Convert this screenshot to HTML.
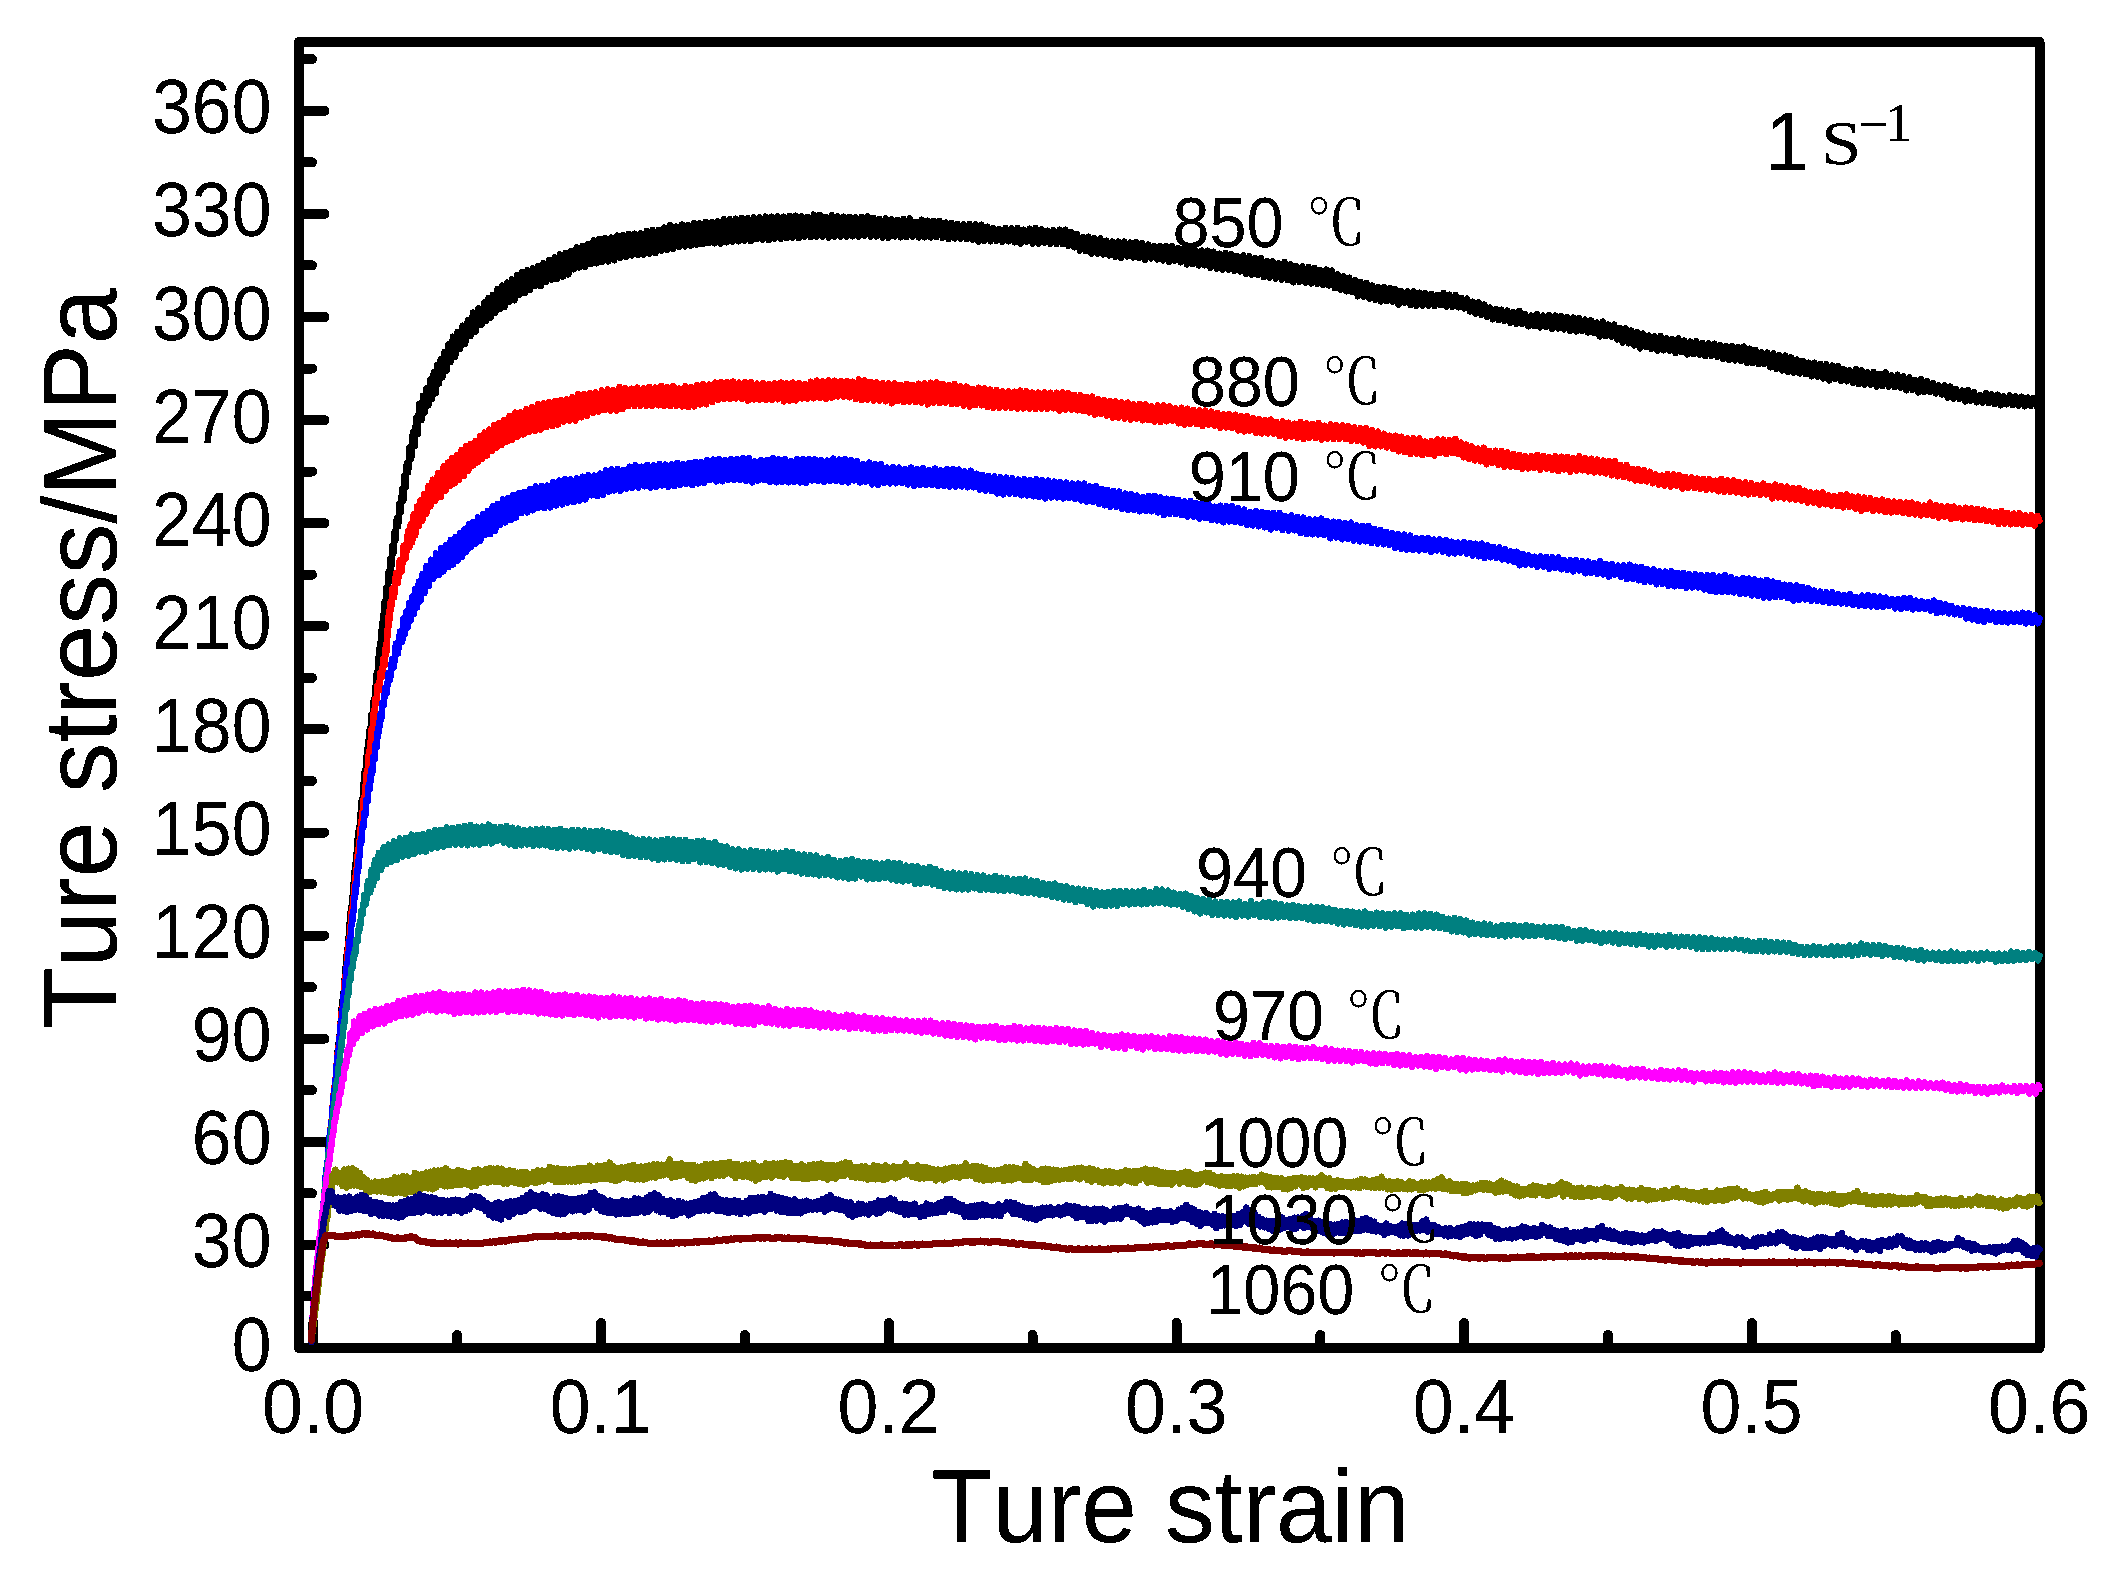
<!DOCTYPE html>
<html lang="en"><head><meta charset="utf-8"><title>Ture stress - Ture strain, 1 s-1</title>
<style>html,body{margin:0;padding:0;background:#fff}body{width:2110px;height:1570px;overflow:hidden}svg{display:block}</style></head>
<body>
<svg width="2110" height="1570" viewBox="0 0 2110 1570" shape-rendering="crispEdges">
<rect width="2110" height="1570" fill="#fff"/>
<g stroke="#000" stroke-width="10" stroke-linecap="round" fill="none">
<rect x="299.0" y="42.0" width="1740.5" height="1306.0" stroke-linejoin="round"/>
<path d="M299.0,1348.0h25.5M299.0,1296.4h13.0M299.0,1244.9h25.5M299.0,1193.3h13.0M299.0,1141.8h25.5M299.0,1090.2h13.0M299.0,1038.7h25.5M299.0,987.1h13.0M299.0,935.6h25.5M299.0,884.0h13.0M299.0,832.5h25.5M299.0,780.9h13.0M299.0,729.4h25.5M299.0,677.8h13.0M299.0,626.3h25.5M299.0,574.7h13.0M299.0,523.2h25.5M299.0,471.6h13.0M299.0,420.1h25.5M299.0,368.5h13.0M299.0,317.0h25.5M299.0,265.4h13.0M299.0,213.9h25.5M299.0,162.3h13.0M299.0,110.8h25.5M299.0,59.2h13.0M313.4,1348.0v-25.0M457.2,1348.0v-13.0M601.1,1348.0v-25.0M744.9,1348.0v-13.0M888.8,1348.0v-25.0M1032.6,1348.0v-13.0M1176.5,1348.0v-25.0M1320.3,1348.0v-13.0M1464.2,1348.0v-25.0M1608.0,1348.0v-13.0M1751.8,1348.0v-25.0M1895.7,1348.0v-13.0M2039.5,1348.0v-25.0"/>
</g>
<path d="M311.5,1342.1 312.1,1331.5 312.7,1327.6 313.3,1317.8 314.0,1313.4 314.6,1305.0 315.2,1298.5 315.8,1289.7 316.5,1284.7 317.1,1276.2 317.7,1271.6 318.3,1261.8 319.0,1256.6 319.6,1248.5 320.2,1242.4 320.9,1233.5 321.5,1230.0 322.1,1220.5 322.8,1215.4 323.4,1206.3 324.0,1202.5 324.7,1191.8 325.3,1189.3 326.0,1177.8 326.6,1175.0 327.2,1162.8 327.9,1161.9 328.5,1148.5 329.2,1148.1 329.8,1134.7 330.5,1132.1 331.1,1121.5 331.8,1119.8 332.4,1107.8 333.1,1105.6 333.7,1094.6 334.4,1091.6 335.1,1080.3 335.7,1078.5 336.4,1066.5 337.0,1063.7 337.7,1050.4 338.4,1050.2 339.0,1036.6 339.7,1036.6 340.4,1023.0 341.0,1022.5 341.7,1007.3 342.3,1009.3 343.0,994.5 343.6,994.9 344.3,979.4 344.9,981.1 345.6,967.1 346.2,965.9 346.9,951.3 347.5,952.5 348.2,938.0 348.8,939.5 349.5,924.0 350.1,924.6 350.8,910.0 351.4,912.6 352.1,897.4 352.8,898.4 353.4,883.9 354.1,885.0 354.8,868.9 355.4,870.9 356.1,854.1 356.8,855.5 357.5,840.0 358.2,841.7 358.9,827.7 359.6,828.6 360.3,813.5 361.1,815.3 361.8,799.5 362.6,801.5 363.3,784.0 364.1,788.5 364.8,770.6 365.6,773.4 366.4,756.3 367.2,760.5 368.0,741.8 368.8,746.6 369.7,729.1 370.7,732.4 371.6,714.3 372.6,719.6 373.5,701.4 374.4,705.3 375.2,687.0 376.0,691.7 376.8,672.2 377.6,676.8 378.3,657.6 379.1,663.7 379.9,643.7 380.7,650.2 381.4,630.4 382.2,635.0 383.0,615.2 383.8,622.5 384.7,601.4 385.5,609.8 386.4,587.7 387.3,595.9 388.3,573.1 389.2,581.5 390.2,559.2 391.2,568.7 392.2,546.1 393.3,553.5 394.4,532.3 395.6,540.1 396.8,518.8 398.1,526.4 399.5,503.9 400.8,512.6 402.1,489.4 403.3,500.5 404.5,475.8 405.6,487.4 406.8,463.1 408.1,472.5 409.5,447.5 411.2,459.1 412.9,432.4 414.6,446.5 416.1,418.4 417.6,434.2 419.3,403.9 421.5,420.1 423.0,395.8 424.8,412.7 426.6,388.5 428.5,405.3 430.4,379.5 432.1,398.7 433.8,372.3 435.5,393.3 437.2,365.3 438.9,383.7 440.7,359.3 442.5,377.4 444.5,352.2 446.5,370.8 448.6,344.2 450.7,362.1 453.0,336.7 455.2,356.7 457.6,331.8 460.1,349.1 462.6,325.7 465.2,343.7 467.8,320.3 470.4,336.1 473.1,312.6 475.8,331.8 478.6,308.3 481.4,325.0 484.2,302.7 486.4,320.8 488.6,298.1 490.8,317.8 493.0,294.8 495.3,313.0 497.6,289.0 499.9,309.2 502.3,285.5 504.7,307.0 507.1,282.7 509.5,301.9 512.0,279.3 514.5,300.3 517.0,275.2 519.6,294.8 522.2,271.8 524.8,293.0 527.5,270.2 530.1,290.0 532.8,268.2 535.5,285.9 538.2,266.0 540.9,286.1 543.6,263.1 546.4,281.8 549.1,260.0 551.9,279.8 554.7,257.5 557.4,278.7 560.2,254.4 563.0,276.6 565.7,253.1 568.5,274.4 571.3,250.9 574.0,269.3 576.8,247.3 579.6,267.4 582.5,245.9 585.3,266.8 588.1,243.9 590.9,264.2 593.8,240.3 596.7,263.3 599.5,238.8 602.4,261.7 605.3,238.2 608.3,261.6 611.2,237.7 614.2,260.3 617.2,235.6 620.1,258.2 623.1,235.2 626.1,257.2 629.0,233.8 632.0,255.4 634.9,233.7 637.9,254.9 640.9,233.5 643.8,254.7 646.8,230.9 649.7,253.6 652.7,230.1 655.6,253.0 658.6,230.0 661.5,250.6 664.5,227.6 667.4,249.9 670.4,225.0 673.3,249.0 676.3,226.6 679.2,246.9 682.2,224.5 685.1,246.3 688.1,224.8 691.0,245.6 694.0,223.2 697.0,244.7 700.0,223.5 702.9,244.1 705.9,221.9 708.9,243.2 711.9,222.2 714.8,243.3 717.8,221.2 720.8,243.6 723.8,219.1 726.8,242.4 729.8,219.1 732.8,241.7 735.8,218.7 738.8,241.3 741.8,217.9 744.8,240.6 747.8,218.1 750.8,241.2 753.8,217.2 756.8,239.2 759.8,217.2 762.8,239.7 765.8,216.6 768.8,240.0 771.8,216.7 774.8,238.8 777.8,216.2 780.8,238.9 783.8,216.7 786.8,238.0 789.8,215.9 792.8,237.5 795.8,215.7 798.8,238.2 801.8,216.5 804.8,236.7 807.8,216.8 810.8,237.2 813.8,214.6 816.8,236.8 819.8,214.8 822.8,236.8 825.8,216.8 828.8,237.4 831.8,215.1 834.8,236.6 837.8,216.3 840.8,236.8 843.8,216.7 846.8,236.6 849.8,216.8 852.8,236.3 855.8,217.2 858.8,236.5 861.8,216.9 864.8,235.7 867.8,216.4 870.8,236.6 873.7,218.0 876.7,236.4 879.7,219.0 882.7,237.7 885.7,218.5 888.7,237.9 891.7,219.4 894.7,236.5 897.7,220.1 900.7,237.4 903.7,219.1 906.7,237.1 909.7,218.2 912.7,236.6 915.7,221.8 918.7,237.5 921.7,219.7 924.7,237.3 927.7,220.6 930.7,237.5 933.7,220.9 936.7,237.1 939.7,221.0 942.7,237.9 945.7,222.6 948.7,239.1 951.7,223.1 954.7,238.5 957.6,223.8 960.6,238.8 963.6,224.2 966.6,239.0 969.6,223.8 972.6,239.8 975.6,224.5 978.6,241.8 981.6,224.7 984.5,241.0 987.5,226.7 990.5,241.4 993.5,228.2 996.5,240.8 999.5,229.1 1002.5,241.9 1005.5,228.0 1008.5,241.3 1011.5,228.4 1014.5,242.4 1017.5,228.0 1020.5,243.8 1023.6,229.7 1026.6,241.7 1029.6,228.6 1032.6,243.5 1035.6,227.8 1038.6,243.6 1041.6,229.5 1044.6,242.5 1047.6,230.8 1050.6,243.9 1053.6,230.1 1056.5,244.2 1059.5,229.7 1062.5,244.2 1065.4,229.7 1068.3,246.0 1071.3,231.9 1074.2,247.3 1077.1,233.8 1079.9,250.7 1082.8,237.0 1085.7,251.0 1088.6,236.7 1091.5,253.7 1094.4,238.2 1097.4,253.6 1100.3,238.3 1103.3,254.5 1106.2,240.7 1109.2,255.4 1112.2,241.5 1115.2,256.8 1118.1,241.4 1121.1,258.0 1124.1,241.4 1127.1,256.4 1130.1,242.4 1133.1,257.4 1136.1,241.8 1139.1,258.2 1142.1,243.2 1145.1,260.1 1148.1,244.6 1151.1,258.3 1154.1,246.3 1157.1,259.5 1160.1,245.9 1163.1,260.3 1166.0,246.0 1169.0,262.0 1172.0,246.0 1175.0,260.7 1177.9,248.1 1180.9,262.3 1183.9,247.9 1186.9,264.6 1189.8,248.9 1192.8,264.1 1195.8,250.5 1198.8,265.5 1201.7,250.6 1204.7,265.3 1207.7,250.7 1210.6,267.9 1213.6,251.7 1216.6,268.6 1219.6,253.7 1222.5,269.6 1225.5,252.9 1228.5,269.7 1231.4,254.0 1234.4,270.9 1237.3,256.0 1240.3,271.5 1243.3,255.3 1246.2,274.1 1249.2,256.2 1252.1,274.7 1255.1,257.9 1258.0,274.9 1261.0,258.0 1263.9,277.2 1266.9,261.0 1269.8,277.8 1272.8,261.5 1275.7,278.8 1278.7,263.3 1281.6,279.6 1284.6,262.0 1287.6,280.0 1290.5,264.3 1293.5,282.3 1296.5,266.1 1299.4,281.9 1302.4,266.3 1305.4,282.7 1308.4,266.8 1311.3,283.6 1314.3,267.8 1317.3,284.0 1320.2,270.0 1323.1,284.8 1326.1,269.5 1329.0,285.6 1331.9,270.5 1334.8,288.2 1337.7,274.4 1340.6,289.8 1343.5,276.3 1346.3,291.3 1349.2,277.7 1352.1,292.0 1355.0,279.8 1357.9,296.3 1360.7,282.1 1363.6,296.7 1366.5,283.0 1369.4,298.6 1372.3,285.5 1375.2,299.7 1378.1,287.0 1381.0,301.5 1383.9,286.9 1386.8,301.1 1389.8,288.1 1392.7,301.6 1395.6,289.1 1398.6,304.8 1401.6,291.1 1404.6,302.5 1407.6,291.4 1410.6,305.2 1413.6,291.3 1416.6,305.9 1419.6,292.6 1422.6,305.6 1425.6,293.2 1428.6,305.8 1431.6,294.0 1434.6,306.0 1437.6,295.0 1440.6,305.2 1443.6,293.0 1446.6,306.8 1449.5,294.7 1452.4,306.9 1455.4,294.9 1458.3,307.3 1461.2,297.8 1464.1,308.5 1467.0,298.7 1469.9,311.4 1472.8,301.8 1475.6,313.8 1478.5,302.3 1481.4,314.9 1484.3,304.6 1487.2,316.9 1490.0,307.7 1492.9,319.3 1495.8,308.9 1498.7,320.0 1501.6,309.8 1504.5,321.0 1507.5,310.6 1510.4,322.8 1513.3,311.9 1516.3,323.9 1519.3,310.8 1522.2,324.2 1525.2,314.0 1528.2,326.3 1531.2,315.4 1534.2,326.2 1537.1,313.9 1540.1,327.3 1543.1,315.7 1546.1,326.9 1549.1,315.0 1552.1,328.9 1555.1,315.4 1558.1,328.4 1561.1,316.1 1564.1,329.3 1567.1,316.9 1570.1,330.7 1573.1,317.6 1576.1,331.5 1579.1,317.9 1582.0,330.9 1585.0,319.6 1588.0,332.6 1590.9,320.3 1593.9,333.1 1596.8,322.6 1599.7,336.5 1602.7,321.6 1605.6,336.0 1608.5,324.6 1611.3,336.6 1614.2,324.6 1617.0,339.4 1619.9,328.2 1622.7,342.7 1625.6,328.2 1628.5,343.4 1631.3,330.6 1634.2,345.6 1637.1,332.1 1640.0,348.4 1642.9,333.6 1645.8,347.0 1648.8,335.6 1651.7,348.9 1654.6,336.4 1657.6,350.7 1660.6,335.9 1663.5,350.4 1666.5,338.4 1669.5,350.7 1672.4,339.1 1675.4,353.2 1678.4,338.4 1681.4,352.1 1684.4,340.5 1687.4,354.5 1690.3,341.5 1693.3,354.2 1696.3,341.1 1699.3,354.6 1702.3,342.8 1705.3,356.2 1708.3,343.4 1711.3,356.0 1714.3,343.7 1717.3,356.9 1720.2,345.1 1723.2,358.9 1726.2,346.0 1729.1,360.2 1732.1,346.0 1735.1,360.3 1738.0,346.9 1741.0,361.0 1743.9,346.7 1746.9,363.0 1749.8,348.7 1752.8,363.1 1755.7,350.0 1758.7,364.2 1761.6,352.3 1764.5,363.8 1767.5,352.6 1770.4,367.4 1773.3,353.3 1776.3,369.0 1779.2,355.0 1782.1,370.6 1785.1,355.4 1788.0,371.8 1790.9,357.3 1793.9,372.8 1796.8,359.5 1799.8,373.4 1802.7,360.9 1805.6,374.2 1808.6,362.6 1811.5,376.3 1814.5,362.6 1817.4,376.6 1820.3,363.8 1823.3,378.6 1826.2,364.2 1829.2,380.5 1832.2,365.6 1835.1,378.9 1838.1,365.9 1841.0,380.8 1844.0,369.4 1847.0,381.3 1849.9,370.4 1852.9,383.0 1855.9,369.1 1858.8,384.1 1861.8,370.4 1864.8,384.7 1867.8,372.2 1870.7,384.6 1873.7,372.0 1876.7,386.8 1879.7,374.1 1882.6,386.2 1885.6,372.3 1888.6,386.5 1891.6,375.3 1894.5,387.2 1897.5,374.7 1900.5,387.7 1903.4,376.4 1906.4,390.3 1909.4,377.4 1912.3,389.9 1915.3,380.2 1918.2,392.5 1921.2,379.0 1924.1,391.7 1927.1,380.8 1930.0,391.9 1933.0,382.9 1935.9,393.5 1938.8,385.5 1941.7,394.4 1944.7,385.5 1947.6,397.6 1950.5,386.6 1953.4,398.6 1956.3,389.2 1959.3,398.8 1962.2,390.6 1965.1,401.4 1968.1,390.0 1971.0,400.7 1973.9,392.0 1976.9,402.3 1979.8,395.1 1982.8,402.7 1985.8,393.0 1988.7,403.2 1991.7,394.4 1994.7,404.2 1997.7,394.7 2000.7,405.3 2003.7,396.5 2006.7,404.3 2009.7,395.2 2012.7,405.0 2015.7,396.5 2018.7,405.8 2021.7,396.7 2024.7,406.2 2027.7,397.6 2030.7,405.9 2033.7,397.9 2036.7,406.3 2039.5,402.5" fill="none" stroke="#000000" stroke-width="6.5" stroke-linejoin="round" stroke-linecap="round"/>
<path d="M311.5,1341.0 312.1,1332.8 312.7,1326.7 313.3,1319.1 313.9,1313.4 314.5,1304.5 315.1,1299.2 315.7,1291.2 316.4,1287.2 317.0,1277.1 317.6,1271.6 318.2,1262.1 318.8,1259.0 319.5,1247.1 320.1,1244.9 320.7,1233.6 321.3,1230.6 322.0,1220.5 322.6,1217.4 323.3,1204.9 323.9,1204.1 324.5,1192.3 325.2,1189.0 325.8,1178.3 326.5,1175.8 327.1,1163.2 327.8,1160.9 328.4,1150.3 329.1,1148.8 329.8,1135.4 330.4,1133.3 331.1,1121.8 331.7,1119.7 332.4,1106.9 333.1,1106.4 333.8,1092.5 334.4,1090.7 335.1,1080.0 335.8,1077.9 336.5,1064.7 337.1,1062.8 337.8,1051.3 338.5,1050.6 339.2,1036.8 339.9,1036.9 340.6,1023.3 341.2,1022.2 341.9,1008.8 342.6,1009.0 343.3,995.3 344.0,995.2 344.7,980.7 345.4,982.0 346.1,967.0 346.8,967.9 347.5,951.7 348.2,954.2 348.9,938.3 349.6,940.7 350.3,925.7 351.0,925.5 351.8,910.0 352.5,911.7 353.2,897.7 353.9,896.9 354.7,884.1 355.4,882.3 356.1,869.0 356.9,868.6 357.6,854.6 358.3,854.8 359.1,841.6 359.8,841.9 360.6,827.6 361.4,827.3 362.1,811.7 362.9,815.6 363.7,798.4 364.5,801.4 365.2,785.6 366.0,786.0 366.8,771.0 367.6,773.1 368.4,755.6 369.3,759.2 370.1,742.1 370.9,744.6 371.7,728.5 372.5,731.7 373.4,714.2 374.3,718.0 375.2,699.4 376.3,704.0 377.5,685.6 378.9,690.8 380.4,672.5 381.9,677.2 383.4,658.7 384.8,664.9 385.9,644.8 386.7,650.8 387.4,629.8 388.0,636.1 388.6,616.5 389.2,622.9 390.0,602.9 391.1,609.4 392.5,588.4 394.1,597.5 396.0,573.0 397.9,583.2 399.8,560.2 401.7,571.7 403.7,545.7 405.8,558.7 408.0,531.2 409.3,547.4 410.7,524.3 412.2,542.1 413.7,514.6 415.3,535.1 417.0,506.6 418.7,526.2 420.5,500.4 422.3,520.7 424.3,494.1 426.3,513.9 428.4,486.3 430.5,506.3 432.8,479.7 435.3,500.7 438.0,472.9 440.8,497.1 443.7,466.3 445.9,490.6 448.1,462.6 450.2,486.0 452.4,457.8 454.6,483.4 456.9,455.0 459.2,480.1 461.5,450.0 463.8,476.0 466.1,446.0 468.4,470.8 470.7,443.8 473.1,465.6 475.4,441.3 477.7,462.4 480.0,436.0 482.3,458.8 484.6,432.5 487.0,455.6 489.4,429.5 491.7,451.2 494.2,425.0 496.6,447.8 499.1,423.2 501.6,445.1 504.2,420.2 506.9,441.5 509.6,416.0 512.3,439.9 515.1,412.7 517.9,436.7 520.8,412.2 523.6,434.5 526.5,409.2 529.3,431.7 532.2,407.1 535.0,431.0 537.9,404.2 540.7,429.5 543.6,403.5 546.5,427.1 549.4,402.1 552.3,426.2 555.2,400.9 558.1,424.7 561.0,399.9 563.9,421.6 566.8,399.2 569.7,420.8 572.6,397.2 575.5,420.6 578.4,394.0 581.3,417.3 584.2,394.3 587.1,416.0 590.1,393.0 593.0,413.2 595.9,392.6 598.8,411.7 601.8,390.6 604.7,410.1 607.7,389.5 610.6,410.7 613.6,390.1 616.5,410.7 619.5,386.9 622.5,409.0 625.4,388.0 628.4,406.2 631.4,388.6 634.4,406.1 637.4,387.7 640.4,405.7 643.4,388.4 646.4,405.9 649.4,386.9 652.4,406.0 655.4,387.6 658.4,405.4 661.4,385.8 664.4,406.0 667.4,387.3 670.4,406.2 673.4,386.0 676.4,405.8 679.4,388.5 682.4,406.4 685.4,386.3 688.4,407.1 691.4,387.0 694.3,406.4 697.3,385.3 700.3,404.4 703.3,384.1 706.2,404.3 709.2,384.5 712.2,402.2 715.2,382.6 718.1,400.0 721.1,381.9 724.1,399.0 727.1,382.2 730.0,398.8 733.0,381.4 736.0,398.5 739.0,382.7 742.0,399.0 745.0,381.9 748.0,400.7 751.0,382.1 754.0,399.6 757.0,383.7 760.0,399.7 763.0,383.2 766.0,400.0 769.0,383.8 772.0,399.9 775.0,383.3 778.0,399.3 781.0,382.5 784.0,401.4 787.0,383.3 790.0,400.7 793.0,382.7 796.0,400.4 799.0,382.8 802.0,398.6 804.9,383.8 807.9,398.6 810.9,381.7 813.9,398.3 816.9,380.5 819.9,397.9 822.9,381.3 825.9,399.1 828.9,380.5 831.9,397.8 834.9,380.7 837.9,396.5 840.9,380.9 843.9,396.8 846.9,381.2 849.9,397.3 852.9,381.7 855.8,399.1 858.8,379.6 861.8,400.0 864.8,380.6 867.8,399.6 870.8,381.9 873.8,400.7 876.8,382.4 879.8,400.6 882.8,383.1 885.8,401.3 888.8,383.2 891.8,403.3 894.8,383.3 897.8,401.0 900.8,384.9 903.8,402.1 906.8,384.0 909.8,401.6 912.8,384.8 915.8,402.2 918.8,383.7 921.8,402.6 924.8,383.6 927.8,404.4 930.8,382.7 933.8,402.8 936.8,382.6 939.8,403.2 942.8,384.0 945.8,402.6 948.8,385.1 951.8,404.2 954.7,384.0 957.7,403.9 960.7,386.3 963.7,405.7 966.7,386.6 969.7,406.6 972.6,388.9 975.6,405.1 978.6,387.6 981.6,405.3 984.6,388.3 987.6,407.2 990.5,389.5 993.5,407.9 996.5,389.8 999.5,407.8 1002.5,391.4 1005.5,407.8 1008.5,391.3 1011.5,408.0 1014.5,391.7 1017.5,408.6 1020.5,390.5 1023.5,408.5 1026.5,391.2 1029.5,408.7 1032.5,392.5 1035.5,409.1 1038.5,392.5 1041.5,408.6 1044.5,392.3 1047.5,409.0 1050.5,392.7 1053.5,408.3 1056.5,392.7 1059.5,410.7 1062.5,392.3 1065.5,409.7 1068.4,393.1 1071.4,409.6 1074.4,394.9 1077.4,410.4 1080.3,395.0 1083.3,411.2 1086.3,396.8 1089.2,412.6 1092.2,396.5 1095.1,414.7 1098.1,399.0 1101.1,413.9 1104.0,399.9 1107.0,415.7 1110.0,400.8 1112.9,417.8 1115.9,401.4 1118.8,417.6 1121.8,402.4 1124.8,418.6 1127.8,402.6 1130.7,419.7 1133.7,404.3 1136.7,418.7 1139.7,403.8 1142.7,420.4 1145.7,404.2 1148.6,420.1 1151.6,406.3 1154.6,421.7 1157.6,405.5 1160.6,422.0 1163.6,405.2 1166.6,421.4 1169.6,406.2 1172.6,420.7 1175.6,408.4 1178.6,423.4 1181.6,407.7 1184.6,424.8 1187.5,408.7 1190.5,423.9 1193.5,410.0 1196.5,424.1 1199.5,410.5 1202.5,426.1 1205.4,410.5 1208.4,424.6 1211.4,411.5 1214.4,425.6 1217.3,412.9 1220.3,428.0 1223.3,414.4 1226.3,427.5 1229.2,413.9 1232.2,428.0 1235.2,414.7 1238.2,430.6 1241.1,416.2 1244.1,431.5 1247.1,416.2 1250.0,430.7 1253.0,417.9 1256.0,432.9 1258.9,418.8 1261.9,433.5 1264.9,420.2 1267.8,433.5 1270.8,419.5 1273.8,433.8 1276.7,422.1 1279.7,436.2 1282.7,421.2 1285.6,437.5 1288.6,422.7 1291.6,436.6 1294.6,423.6 1297.6,437.9 1300.6,422.0 1303.6,439.2 1306.6,423.3 1309.6,437.9 1312.6,423.9 1315.6,438.0 1318.6,422.9 1321.6,439.5 1324.6,425.7 1327.6,438.8 1330.6,424.5 1333.6,439.0 1336.5,425.1 1339.5,438.8 1342.5,425.4 1345.5,439.1 1348.4,426.2 1351.4,440.8 1354.4,427.4 1357.3,441.0 1360.3,428.2 1363.3,442.6 1366.2,428.0 1369.2,445.8 1372.1,429.9 1375.1,446.3 1378.0,431.7 1381.0,446.3 1383.9,433.8 1386.9,447.5 1389.8,435.8 1392.8,448.9 1395.7,435.7 1398.7,451.3 1401.6,436.7 1404.6,452.2 1407.5,438.5 1410.5,454.2 1413.5,438.2 1416.4,453.7 1419.4,438.3 1422.3,455.2 1425.3,441.6 1428.3,454.2 1431.3,441.2 1434.3,455.7 1437.3,439.3 1440.3,453.1 1443.2,439.4 1446.3,454.2 1449.3,440.2 1452.3,453.2 1455.3,438.8 1458.1,454.2 1460.9,442.5 1463.6,457.3 1466.3,444.6 1469.1,459.0 1471.9,446.4 1474.8,460.5 1477.7,448.6 1480.6,461.3 1483.6,447.6 1486.5,464.3 1489.5,450.9 1492.5,462.9 1495.5,450.7 1498.4,465.0 1501.4,450.9 1504.4,466.8 1507.4,452.4 1510.4,466.7 1513.3,453.8 1516.3,467.2 1519.3,454.8 1522.3,468.8 1525.3,456.2 1528.3,468.4 1531.3,456.1 1534.2,468.1 1537.2,454.8 1540.2,469.8 1543.3,455.9 1546.3,468.7 1549.3,457.2 1552.3,470.0 1555.3,456.1 1558.3,471.2 1561.3,456.7 1564.3,469.5 1567.3,456.8 1570.3,471.8 1573.3,458.0 1576.3,470.7 1579.3,456.2 1582.3,470.3 1585.2,457.9 1588.2,471.4 1591.2,458.7 1594.2,472.6 1597.1,459.4 1600.1,472.6 1603.1,460.7 1606.0,473.5 1609.0,461.0 1611.9,475.3 1614.8,461.0 1617.8,476.3 1620.7,465.0 1623.6,477.2 1626.5,464.9 1629.5,478.4 1632.4,468.9 1635.3,480.4 1638.2,469.0 1641.1,480.9 1644.1,469.8 1647.0,481.5 1649.9,471.8 1652.9,483.3 1655.8,474.5 1658.8,484.6 1661.7,475.6 1664.7,485.9 1667.6,473.9 1670.6,486.6 1673.6,474.5 1676.6,485.6 1679.5,475.2 1682.5,488.7 1685.5,476.8 1688.5,488.0 1691.5,477.3 1694.5,488.2 1697.5,478.6 1700.4,488.9 1703.4,478.8 1706.4,490.0 1709.4,479.1 1712.4,489.5 1715.4,480.7 1718.4,491.3 1721.4,478.8 1724.4,491.9 1727.4,480.3 1730.4,491.9 1733.4,480.3 1736.4,492.4 1739.4,482.1 1742.4,493.5 1745.3,482.4 1748.3,494.5 1751.3,483.2 1754.3,493.7 1757.3,485.1 1760.2,494.8 1763.2,483.6 1766.2,494.5 1769.2,486.3 1772.1,498.5 1775.1,484.5 1778.1,497.4 1781.0,486.2 1784.0,498.3 1787.0,486.7 1790.0,499.3 1792.9,487.9 1795.9,499.8 1798.9,487.9 1801.8,500.8 1804.8,490.7 1807.8,502.7 1810.7,492.3 1813.7,502.6 1816.7,492.7 1819.6,504.8 1822.6,492.5 1825.6,504.4 1828.5,495.3 1831.5,505.7 1834.5,496.1 1837.5,506.2 1840.4,494.9 1843.4,507.4 1846.4,494.3 1849.4,506.8 1852.3,496.6 1855.3,508.7 1858.3,496.5 1861.3,511.0 1864.3,497.6 1867.2,509.2 1870.2,498.3 1873.2,511.2 1876.2,500.2 1879.2,510.4 1882.2,499.5 1885.2,512.2 1888.1,501.0 1891.1,512.5 1894.1,501.7 1897.1,512.0 1900.1,501.9 1903.1,512.9 1906.1,502.5 1909.0,514.0 1912.0,502.5 1915.0,514.4 1918.0,504.3 1921.0,515.5 1924.0,505.6 1927.0,514.9 1930.0,502.7 1932.9,515.8 1935.9,505.1 1938.9,517.6 1941.9,506.3 1944.9,516.7 1947.9,506.3 1950.9,519.2 1953.8,506.5 1956.8,518.1 1959.8,508.2 1962.8,519.3 1965.8,507.8 1968.8,518.9 1971.8,508.5 1974.7,520.2 1977.7,509.0 1980.7,520.1 1983.7,509.8 1986.7,521.2 1989.7,511.4 1992.7,521.8 1995.6,511.9 1998.6,524.2 2001.6,511.1 2004.6,523.8 2007.6,512.9 2010.6,524.4 2013.6,513.6 2016.5,524.1 2019.5,513.1 2022.5,524.5 2025.5,515.4 2028.5,524.1 2031.5,515.1 2034.5,525.6 2037.4,515.8 2039.5,521.0" fill="none" stroke="#ff0000" stroke-width="6.5" stroke-linejoin="round" stroke-linecap="round"/>
<path d="M311.5,1341.0 312.1,1331.9 312.7,1328.4 313.2,1317.3 313.8,1312.9 314.4,1305.0 315.0,1300.6 315.6,1290.1 316.2,1286.0 316.8,1275.0 317.4,1272.3 318.1,1261.3 318.7,1258.4 319.3,1248.1 319.9,1243.4 320.6,1233.6 321.2,1230.7 321.8,1218.8 322.5,1216.6 323.1,1205.8 323.8,1201.2 324.4,1190.5 325.1,1187.9 325.7,1176.0 326.4,1173.8 327.0,1162.3 327.7,1162.1 328.4,1150.8 329.0,1147.0 329.7,1135.5 330.4,1134.3 331.1,1122.7 331.7,1121.2 332.4,1107.3 333.1,1106.7 333.8,1093.9 334.5,1093.7 335.2,1080.0 335.9,1079.0 336.6,1065.2 337.3,1063.6 338.0,1050.7 338.7,1049.5 339.4,1037.2 340.1,1035.1 340.8,1023.5 341.5,1022.5 342.2,1009.7 343.0,1008.6 343.7,994.3 344.5,995.3 345.2,981.1 346.0,979.8 346.7,966.7 347.5,965.7 348.3,952.2 349.0,951.5 349.8,938.7 350.6,938.7 351.3,925.5 352.1,925.0 352.9,912.3 353.6,912.1 354.4,897.2 355.1,898.4 355.8,883.3 356.6,885.4 357.3,869.5 358.1,871.7 358.9,856.5 359.7,856.8 360.5,841.4 361.4,841.8 362.3,827.5 363.3,827.9 364.3,812.7 365.4,815.2 366.4,799.5 367.6,801.8 368.7,785.0 369.9,788.6 371.0,770.5 372.2,773.6 373.4,757.0 374.6,759.8 375.7,743.3 376.8,747.1 377.9,728.7 379.0,732.0 380.1,714.7 381.2,719.6 382.4,702.5 383.7,705.1 385.2,687.8 386.7,693.5 388.4,673.3 390.1,680.1 392.0,659.2 393.9,667.6 395.9,643.6 397.9,653.7 400.0,631.6 402.2,642.0 403.5,618.3 404.8,634.2 406.2,611.9 407.6,627.5 409.1,603.1 410.6,620.5 412.2,596.6 413.8,613.7 415.4,589.2 417.1,607.3 418.9,581.6 420.7,600.5 422.7,573.9 424.6,593.0 426.7,565.8 428.9,586.0 431.1,559.7 433.5,578.6 436.2,553.4 439.0,575.2 441.2,548.2 443.5,571.5 445.9,545.2 448.3,567.2 450.8,540.0 453.2,564.4 455.5,537.1 457.8,560.5 460.0,533.3 462.2,556.7 464.3,529.6 466.5,551.6 468.8,524.4 471.0,547.3 473.4,521.9 475.7,543.7 478.1,517.3 480.5,540.6 482.9,514.6 485.3,535.0 487.7,511.0 490.2,534.2 492.7,506.5 495.2,530.9 497.7,503.8 500.3,524.9 502.9,499.5 505.5,522.5 508.1,497.8 510.8,520.0 513.4,494.9 516.1,517.7 518.9,493.2 521.6,513.2 524.4,491.8 527.2,512.4 530.0,489.0 532.8,510.3 535.7,486.3 538.5,507.8 541.5,486.0 544.4,508.1 547.4,485.6 550.3,507.6 553.3,482.1 556.3,505.4 559.2,480.6 562.2,504.4 565.1,478.8 568.0,502.5 570.9,479.6 573.9,502.1 576.8,478.4 579.7,500.7 582.6,476.7 585.5,499.4 588.4,475.3 591.3,495.3 594.3,475.4 597.2,496.2 600.1,473.7 603.0,494.8 606.0,470.5 608.9,491.8 611.8,469.3 614.8,490.4 617.7,469.1 620.7,490.9 623.6,470.0 626.6,488.7 629.6,466.7 632.6,487.9 635.5,465.2 638.5,487.6 641.5,466.7 644.5,486.3 647.5,464.8 650.5,487.6 653.5,465.3 656.5,486.8 659.5,463.9 662.5,485.4 665.5,464.5 668.5,486.9 671.5,464.4 674.5,486.1 677.5,462.8 680.4,484.7 683.4,464.2 686.4,484.0 689.4,462.9 692.4,485.1 695.4,461.8 698.4,483.4 701.3,462.1 704.3,482.8 707.3,460.0 710.3,479.8 713.3,459.5 716.2,481.4 719.2,459.2 722.2,481.3 725.2,460.0 728.2,479.7 731.2,459.3 734.2,480.1 737.2,459.3 740.2,479.7 743.2,458.3 746.2,480.8 749.2,458.3 752.2,482.4 755.2,461.4 758.2,480.6 761.2,460.3 764.2,480.2 767.2,459.8 770.2,481.9 773.2,458.0 776.2,482.3 779.2,459.4 782.2,482.1 785.2,459.1 788.2,482.3 791.2,461.2 794.2,481.7 797.2,458.9 800.2,482.4 803.2,459.2 806.2,482.9 809.2,459.1 812.2,480.4 815.2,459.4 818.2,480.8 821.2,459.9 824.2,481.7 827.2,460.7 830.2,481.0 833.2,458.6 836.2,481.0 839.2,459.6 842.2,481.7 845.2,459.3 848.2,482.5 851.1,460.3 854.1,480.4 857.1,461.1 860.1,482.5 863.1,463.9 866.1,481.7 869.1,462.7 872.1,484.3 875.0,463.8 878.0,484.8 881.0,463.9 884.0,483.2 887.0,467.7 890.0,483.4 893.0,467.0 896.0,483.3 899.0,467.7 902.0,483.1 905.0,469.0 908.0,484.5 911.0,467.5 914.0,485.8 917.0,469.1 920.0,484.8 923.0,468.1 926.0,484.8 929.0,469.9 932.0,485.0 935.0,468.5 938.0,486.2 941.0,470.3 944.0,485.8 947.0,468.9 949.9,486.6 952.9,469.0 955.9,486.7 958.9,469.6 961.8,486.4 964.8,471.4 967.8,487.3 970.7,470.7 973.7,487.3 976.7,473.8 979.6,489.5 982.6,474.8 985.5,490.7 988.5,475.8 991.5,491.2 994.4,476.4 997.4,493.5 1000.3,477.2 1003.3,494.4 1006.3,477.5 1009.3,493.7 1012.3,478.2 1015.2,493.7 1018.2,479.7 1021.2,495.3 1024.2,479.2 1027.2,495.6 1030.2,480.0 1033.2,496.3 1036.2,479.2 1039.2,496.9 1042.2,479.9 1045.2,498.3 1048.2,480.6 1051.2,497.5 1054.2,481.6 1057.2,497.4 1060.1,482.2 1063.1,498.5 1066.1,482.4 1069.1,498.1 1072.1,483.6 1075.1,498.9 1078.1,483.7 1081.1,500.6 1084.1,483.5 1087.0,501.6 1090.0,486.4 1093.0,502.1 1095.9,486.1 1098.8,503.9 1101.7,488.8 1104.6,505.3 1107.5,489.9 1110.4,506.7 1113.3,490.9 1116.3,506.8 1119.2,491.5 1122.1,509.2 1125.1,493.5 1128.0,510.2 1131.0,493.8 1134.0,510.1 1136.9,495.5 1139.9,511.3 1142.9,496.8 1145.9,511.0 1148.8,495.8 1151.8,511.3 1154.8,495.9 1157.8,512.5 1160.8,497.3 1163.8,515.2 1166.8,498.7 1169.8,513.9 1172.7,498.8 1175.7,514.2 1178.7,500.0 1181.7,515.1 1184.6,501.5 1187.6,516.7 1190.6,500.8 1193.6,516.6 1196.5,503.2 1199.5,518.7 1202.5,502.2 1205.5,518.1 1208.4,503.5 1211.4,520.1 1214.4,506.7 1217.3,520.5 1220.3,505.7 1223.3,522.3 1226.3,506.2 1229.2,521.5 1232.2,506.0 1235.2,522.1 1238.1,508.3 1241.1,523.1 1244.1,509.4 1247.0,524.9 1250.0,511.8 1253.0,525.5 1255.9,511.2 1258.9,526.3 1261.9,512.2 1264.8,527.3 1267.8,512.9 1270.8,529.5 1273.7,512.9 1276.7,527.8 1279.7,512.9 1282.6,530.2 1285.6,516.1 1288.6,530.5 1291.5,515.5 1294.5,530.4 1297.5,516.8 1300.4,533.2 1303.4,517.6 1306.4,534.1 1309.4,519.4 1312.3,534.3 1315.3,519.5 1318.3,534.4 1321.3,518.5 1324.3,535.1 1327.2,521.1 1330.2,538.3 1333.2,521.7 1336.1,537.6 1339.1,521.9 1342.1,539.3 1345.0,522.8 1348.0,539.2 1351.0,522.7 1353.9,540.7 1356.9,525.4 1359.8,541.4 1362.8,525.9 1365.7,541.4 1368.7,526.1 1371.6,543.0 1374.6,528.8 1377.6,543.6 1380.5,529.8 1383.5,544.4 1386.4,531.9 1389.4,544.9 1392.3,532.9 1395.3,548.1 1398.2,534.0 1401.2,548.8 1404.1,534.5 1407.1,549.7 1410.1,535.5 1413.0,549.9 1416.0,537.8 1419.0,550.4 1421.9,538.0 1424.9,550.0 1427.9,537.9 1430.9,552.2 1433.9,539.5 1436.9,550.5 1439.9,539.4 1442.9,551.6 1445.9,540.0 1448.8,553.5 1451.8,541.7 1454.8,553.5 1457.8,542.6 1460.8,552.8 1463.8,542.1 1466.8,553.7 1469.8,543.1 1472.7,555.6 1475.7,543.8 1478.7,556.3 1481.7,543.6 1484.6,558.1 1487.6,545.3 1490.5,557.4 1493.5,547.0 1496.4,558.0 1499.3,547.4 1502.2,559.5 1505.1,549.0 1508.1,560.5 1511.0,551.3 1513.9,562.0 1516.8,551.7 1519.7,565.3 1522.7,554.0 1525.6,564.7 1528.6,555.3 1531.5,564.6 1534.5,556.8 1537.4,566.8 1540.4,556.3 1543.4,566.6 1546.4,556.9 1549.3,569.0 1552.3,557.0 1555.3,567.7 1558.3,557.4 1561.3,569.3 1564.3,560.1 1567.3,570.0 1570.3,560.2 1573.3,571.5 1576.2,559.9 1579.2,570.6 1582.2,561.2 1585.2,573.3 1588.2,561.5 1591.2,573.1 1594.2,563.1 1597.2,573.7 1600.1,561.1 1603.1,574.5 1606.1,564.3 1609.0,576.7 1612.0,564.0 1615.0,574.6 1618.0,565.6 1620.9,577.0 1623.9,565.4 1626.8,579.2 1629.8,564.7 1632.8,579.0 1635.7,566.7 1638.7,580.3 1641.7,567.1 1644.6,582.1 1647.6,569.1 1650.6,581.5 1653.5,569.4 1656.5,584.4 1659.5,571.3 1662.5,584.0 1665.4,571.6 1668.4,585.8 1671.4,571.1 1674.4,586.4 1677.3,572.8 1680.3,586.2 1683.3,572.8 1686.3,587.9 1689.3,574.1 1692.2,587.6 1695.2,574.3 1698.2,587.5 1701.2,575.1 1704.2,589.4 1707.2,575.3 1710.2,591.2 1713.1,575.3 1716.1,592.2 1719.1,576.7 1722.1,591.8 1725.1,575.3 1728.1,592.1 1731.0,576.9 1734.0,592.5 1737.0,579.3 1740.0,594.0 1743.0,577.8 1746.0,593.7 1748.9,578.6 1751.9,595.6 1754.9,579.4 1757.9,596.0 1760.8,580.7 1763.8,597.8 1766.8,579.8 1769.8,597.7 1772.7,581.5 1775.7,597.1 1778.7,583.1 1781.7,596.9 1784.6,584.6 1787.6,598.2 1790.6,585.1 1793.6,600.7 1796.5,585.4 1799.5,600.0 1802.5,586.9 1805.4,599.4 1808.4,588.3 1811.4,600.8 1814.4,590.6 1817.3,600.8 1820.3,591.6 1823.3,602.1 1826.3,592.3 1829.2,602.7 1832.2,592.3 1835.2,602.9 1838.2,594.1 1841.2,603.5 1844.1,594.8 1847.1,603.6 1850.1,594.0 1853.1,605.1 1856.1,597.0 1859.1,605.6 1862.1,595.7 1865.0,605.9 1868.0,595.2 1871.0,606.4 1874.0,595.8 1877.0,606.9 1880.0,596.7 1883.0,607.2 1886.0,597.5 1889.0,606.1 1892.0,599.2 1895.0,608.4 1898.0,599.1 1901.0,608.9 1904.0,597.8 1907.0,607.9 1910.0,598.0 1913.0,609.5 1915.9,600.6 1918.9,608.8 1921.9,601.3 1924.9,609.1 1927.9,602.2 1930.8,610.8 1933.8,600.6 1936.8,613.1 1939.7,602.9 1942.7,612.2 1945.6,604.4 1948.6,613.4 1951.6,605.9 1954.5,614.3 1957.5,608.4 1960.4,614.9 1963.4,608.2 1966.3,618.4 1969.3,609.4 1972.2,619.3 1975.2,609.9 1978.1,620.8 1981.1,611.2 1984.1,621.7 1987.0,611.2 1990.0,620.1 1993.0,612.6 1995.9,621.8 1998.9,613.0 2001.9,622.1 2004.9,613.4 2007.9,622.4 2010.9,613.5 2013.9,622.1 2016.8,613.8 2019.8,622.0 2022.8,612.8 2025.9,623.5 2028.9,613.3 2031.9,622.9 2034.9,614.9 2037.9,623.2 2039.5,618.6" fill="none" stroke="#0000ff" stroke-width="6.5" stroke-linejoin="round" stroke-linecap="round"/>
<path d="M311.5,1340.0 312.0,1331.2 312.5,1326.0 313.1,1318.5 313.6,1312.4 314.2,1304.3 314.7,1298.4 315.3,1290.9 315.9,1284.7 316.5,1275.9 317.1,1270.5 317.8,1262.5 318.4,1257.8 319.0,1248.2 319.7,1243.5 320.4,1235.0 321.0,1229.1 321.7,1220.1 322.4,1215.7 323.1,1205.1 323.8,1201.9 324.5,1191.0 325.3,1186.6 326.0,1178.2 326.7,1172.8 327.5,1164.2 328.2,1158.9 329.0,1150.1 329.8,1146.9 330.5,1137.2 331.3,1132.9 332.1,1122.3 332.9,1117.1 333.7,1108.4 334.5,1104.5 335.3,1095.5 336.1,1090.1 336.9,1080.0 337.8,1078.3 338.6,1066.9 339.4,1064.1 340.2,1052.3 341.1,1050.8 341.9,1038.2 342.7,1037.8 343.6,1024.8 344.5,1022.9 345.4,1009.9 346.3,1009.9 347.3,996.3 348.3,995.1 349.3,980.3 350.4,980.1 351.5,967.8 352.7,967.5 353.9,953.9 355.2,954.1 356.4,939.9 357.7,941.6 358.9,925.9 360.1,928.8 361.3,910.8 362.8,914.4 364.3,895.0 366.0,904.2 367.9,881.1 370.2,892.6 371.6,869.8 373.2,885.3 374.9,860.3 376.8,878.4 378.9,852.8 381.2,869.9 383.7,847.4 386.4,864.2 388.7,844.6 391.3,861.7 394.1,841.4 396.9,860.2 399.9,838.6 402.9,856.5 405.9,837.8 408.7,855.7 411.6,834.6 414.5,853.8 417.3,834.9 420.2,851.6 423.1,833.8 426.1,851.6 429.0,831.8 431.9,848.7 434.9,830.2 437.8,847.7 440.8,829.8 443.7,846.6 446.7,827.4 449.7,845.0 452.6,827.9 455.6,844.8 458.6,826.9 461.6,844.5 464.6,826.0 467.6,845.3 470.6,824.8 473.6,844.3 476.6,826.6 479.6,844.7 482.6,826.6 485.6,843.1 488.6,824.6 491.6,843.4 494.6,826.8 497.6,840.9 500.6,826.8 503.6,842.6 506.5,826.0 509.5,844.4 512.5,827.7 515.4,846.1 518.4,828.5 521.4,845.4 524.4,830.2 527.4,844.5 530.4,829.5 533.4,845.9 536.4,829.0 539.4,845.3 542.4,828.7 545.4,845.3 548.4,829.2 551.4,847.1 554.4,829.9 557.4,847.8 560.4,828.8 563.4,847.4 566.4,831.1 569.4,848.6 572.4,829.8 575.4,847.5 578.4,830.1 581.4,847.7 584.4,830.4 587.4,848.8 590.4,831.2 593.4,850.6 596.4,830.8 599.3,849.1 602.3,830.7 605.3,851.0 608.3,832.2 611.2,851.8 614.2,832.9 617.1,851.9 620.0,833.2 623.0,855.2 625.9,834.8 628.8,856.0 631.7,837.7 634.7,855.6 637.6,839.7 640.6,857.2 643.5,839.2 646.5,856.9 649.5,839.5 652.5,858.5 655.5,840.5 658.5,860.0 661.5,839.9 664.5,859.3 667.5,839.0 670.5,858.9 673.5,839.3 676.5,859.6 679.5,840.0 682.5,861.1 685.6,839.9 688.6,861.0 691.5,842.0 694.5,859.0 697.5,840.8 700.5,862.3 703.5,840.7 706.4,861.8 709.4,843.3 712.3,862.8 715.2,841.9 718.2,864.5 721.1,845.8 724.0,864.7 727.0,846.6 729.9,866.9 732.9,849.4 735.8,868.3 738.8,849.6 741.7,869.4 744.7,851.2 747.6,868.8 750.6,850.5 753.6,868.9 756.6,851.0 759.6,869.6 762.6,852.0 765.6,869.4 768.6,851.7 771.6,869.4 774.6,852.7 777.6,871.4 780.6,852.7 783.6,869.1 786.6,851.1 789.6,871.0 792.6,851.8 795.6,871.6 798.6,854.4 801.6,873.4 804.5,854.5 807.5,874.1 810.5,855.2 813.4,874.3 816.4,855.6 819.4,875.4 822.3,858.4 825.3,875.0 828.3,857.1 831.2,875.4 834.2,860.3 837.2,877.3 840.2,861.2 843.2,877.5 846.1,859.9 849.1,878.6 852.1,858.8 855.1,878.5 858.1,860.8 861.1,876.5 864.1,861.9 867.1,879.3 870.1,862.1 873.1,878.8 876.1,862.8 879.1,879.2 882.1,863.6 885.1,878.0 888.1,862.2 891.1,879.6 894.1,863.1 897.1,880.7 900.0,863.4 903.0,881.4 906.0,865.6 908.9,880.8 911.9,866.1 914.9,884.0 917.8,866.5 920.8,883.6 923.8,868.2 926.7,883.1 929.7,866.9 932.6,884.4 935.6,868.8 938.6,886.2 941.5,871.5 944.5,888.0 947.5,873.3 950.4,888.5 953.4,872.6 956.4,889.3 959.4,873.6 962.4,889.5 965.3,873.4 968.3,889.4 971.3,874.1 974.3,888.3 977.3,875.1 980.3,890.2 983.3,875.5 986.3,889.4 989.3,877.6 992.3,890.2 995.3,875.8 998.3,890.6 1001.3,877.7 1004.3,891.1 1007.3,878.2 1010.3,890.5 1013.3,879.4 1016.3,891.3 1019.3,878.8 1022.2,893.0 1025.2,878.6 1028.2,893.0 1031.2,880.4 1034.2,893.5 1037.1,881.0 1040.1,894.7 1043.1,883.0 1046.0,895.2 1049.0,884.0 1051.9,897.0 1054.9,883.6 1057.8,897.6 1060.8,885.9 1063.7,899.5 1066.7,886.5 1069.7,899.9 1072.6,888.4 1075.6,902.0 1078.5,888.6 1081.5,901.2 1084.4,889.6 1087.4,903.9 1090.3,890.3 1093.3,906.6 1096.3,891.0 1099.3,905.3 1102.2,892.4 1105.2,906.2 1108.2,892.0 1111.2,905.4 1114.2,891.1 1117.2,905.7 1120.2,891.1 1123.2,903.8 1126.2,891.2 1129.2,904.4 1132.2,891.6 1135.2,904.0 1138.2,891.5 1141.2,904.3 1144.2,889.9 1147.2,903.9 1150.2,891.9 1153.2,903.4 1156.2,889.2 1159.1,902.9 1162.1,889.7 1165.1,903.4 1168.0,890.6 1171.0,904.6 1173.9,892.7 1176.9,904.4 1179.8,893.9 1182.8,906.6 1185.7,893.7 1188.6,908.9 1191.6,896.2 1194.5,911.3 1197.5,898.2 1200.4,913.5 1203.4,899.0 1206.3,912.3 1209.3,900.3 1212.3,914.8 1215.2,901.6 1218.2,914.7 1221.2,902.2 1224.1,915.5 1227.1,902.3 1230.1,915.5 1233.1,902.4 1236.1,917.0 1239.1,901.6 1242.1,915.6 1245.1,904.2 1248.1,916.4 1251.1,901.1 1254.1,914.9 1257.1,904.4 1260.1,916.9 1263.1,902.4 1266.1,917.1 1269.1,902.1 1272.1,917.9 1275.1,902.9 1278.1,917.4 1281.1,904.0 1284.1,917.2 1287.1,905.6 1290.1,917.8 1293.1,905.2 1296.1,917.7 1299.0,906.3 1302.0,918.0 1305.0,906.8 1308.0,919.6 1311.0,906.7 1314.0,921.1 1316.9,907.2 1319.9,920.8 1322.9,907.4 1325.9,921.0 1328.9,908.6 1331.8,921.8 1334.8,909.9 1337.8,923.5 1340.8,911.0 1343.8,924.4 1346.8,911.1 1349.8,923.9 1352.8,911.8 1355.7,925.0 1358.7,912.6 1361.7,926.4 1364.7,911.6 1367.7,926.4 1370.7,913.9 1373.7,925.9 1376.7,912.8 1379.7,926.1 1382.7,913.4 1385.7,927.7 1388.7,913.8 1391.7,926.6 1394.7,913.3 1397.7,926.1 1400.7,913.4 1403.7,928.2 1406.7,915.0 1409.7,927.1 1412.7,914.8 1415.7,927.6 1418.7,913.6 1421.7,927.8 1424.7,913.2 1427.7,926.8 1430.7,914.1 1433.6,927.7 1436.6,914.7 1439.6,928.2 1442.6,916.9 1445.5,929.2 1448.5,918.8 1451.5,931.3 1454.5,917.9 1457.4,931.8 1460.4,919.2 1463.4,932.3 1466.3,920.6 1469.3,934.6 1472.3,922.7 1475.2,934.2 1478.2,924.0 1481.2,934.4 1484.2,923.5 1487.1,934.8 1490.1,924.5 1493.1,935.0 1496.1,926.6 1499.1,935.6 1502.1,924.8 1505.1,936.5 1508.1,925.3 1511.1,935.3 1514.1,925.3 1517.1,934.7 1520.1,926.1 1523.1,936.3 1526.1,924.9 1529.1,936.2 1532.1,926.0 1535.1,935.8 1538.1,927.1 1541.1,935.0 1544.1,926.7 1547.1,936.9 1550.1,927.3 1553.1,937.1 1556.1,927.2 1559.1,937.7 1562.0,927.1 1565.0,939.0 1568.0,928.8 1571.0,938.0 1574.0,930.9 1577.0,940.7 1579.9,929.9 1582.9,940.6 1585.9,930.4 1588.9,939.8 1591.9,931.9 1594.9,941.0 1597.8,933.6 1600.8,943.0 1603.8,933.4 1606.8,941.3 1609.8,933.3 1612.8,942.4 1615.8,933.2 1618.8,944.1 1621.8,934.4 1624.8,943.0 1627.8,934.8 1630.7,943.9 1633.7,935.0 1636.7,944.7 1639.7,934.1 1642.7,944.2 1645.7,935.6 1648.7,946.4 1651.7,936.0 1654.7,946.8 1657.7,935.8 1660.7,944.6 1663.7,936.6 1666.7,946.9 1669.7,935.0 1672.7,945.5 1675.7,937.1 1678.7,946.6 1681.7,936.8 1684.7,946.0 1687.7,937.0 1690.7,946.8 1693.7,937.4 1696.7,948.6 1699.6,937.3 1702.6,949.1 1705.6,938.1 1708.6,949.1 1711.6,938.3 1714.6,948.7 1717.6,939.8 1720.6,948.7 1723.6,939.7 1726.6,948.9 1729.6,940.4 1732.6,948.6 1735.6,939.6 1738.6,948.6 1741.6,940.0 1744.6,950.3 1747.6,940.7 1750.6,951.2 1753.6,942.3 1756.6,951.2 1759.6,940.9 1762.6,951.4 1765.6,941.2 1768.6,951.7 1771.6,942.2 1774.6,951.2 1777.5,942.0 1780.5,952.0 1783.5,942.8 1786.5,951.6 1789.5,943.2 1792.5,953.1 1795.5,945.1 1798.5,953.8 1801.5,946.9 1804.4,954.8 1807.4,947.2 1810.4,954.9 1813.4,946.4 1816.4,954.5 1819.4,946.9 1822.4,954.5 1825.4,948.3 1828.4,955.1 1831.4,946.4 1834.4,955.4 1837.4,946.4 1840.4,955.2 1843.3,947.0 1846.3,954.4 1849.3,945.4 1852.3,955.7 1855.3,946.5 1858.3,954.9 1861.3,943.6 1864.3,953.9 1867.3,944.9 1870.3,954.6 1873.3,945.3 1876.3,954.2 1879.3,945.2 1882.3,956.0 1885.3,946.0 1888.2,954.5 1891.2,948.4 1894.2,956.8 1897.2,947.8 1900.2,957.0 1903.2,948.5 1906.1,958.4 1909.1,950.2 1912.1,958.0 1915.1,951.0 1918.1,959.9 1921.1,950.1 1924.0,960.3 1927.0,952.5 1930.0,959.0 1933.0,952.8 1936.0,960.1 1939.0,952.6 1942.0,960.9 1945.0,953.4 1948.0,960.8 1951.0,951.7 1954.0,961.0 1957.0,952.6 1960.0,960.6 1963.0,953.9 1966.0,961.1 1969.0,953.0 1972.0,959.5 1975.0,953.8 1978.0,961.0 1981.0,953.3 1984.0,959.4 1987.0,952.6 1990.0,959.1 1993.0,954.0 1996.0,961.6 1999.0,953.5 2002.0,960.7 2005.0,953.8 2008.0,961.0 2011.0,951.7 2014.0,960.6 2017.0,952.2 2020.0,960.1 2023.0,953.2 2026.0,960.1 2029.0,952.3 2032.0,958.8 2035.0,953.2 2038.0,960.3 2039.5,955.6" fill="none" stroke="#008080" stroke-width="6.5" stroke-linejoin="round" stroke-linecap="round"/>
<path d="M311.5,1340.3 311.8,1332.3 312.2,1326.0 312.6,1317.5 313.0,1312.0 313.5,1305.0 314.0,1298.7 314.5,1289.2 315.1,1284.1 315.7,1275.5 316.3,1271.0 317.0,1262.8 317.7,1257.0 318.4,1248.1 319.1,1244.1 319.9,1234.7 320.7,1230.7 321.5,1221.0 322.3,1215.6 323.2,1206.5 324.0,1201.7 324.9,1191.6 325.8,1187.0 326.7,1177.4 327.7,1173.3 328.6,1163.0 329.5,1160.7 330.5,1150.2 331.4,1145.5 332.4,1136.5 333.4,1132.5 334.5,1121.2 335.7,1118.3 337.0,1108.1 338.3,1105.7 339.6,1093.9 340.9,1093.5 342.2,1079.2 343.5,1079.6 344.8,1065.3 346.0,1066.8 347.4,1050.3 349.0,1055.0 350.6,1033.5 352.7,1044.3 354.2,1021.5 356.5,1038.5 359.6,1016.5 362.1,1033.0 364.6,1014.1 367.2,1029.6 369.8,1011.3 372.6,1026.4 375.5,1009.1 378.4,1024.1 381.4,1008.7 384.3,1023.6 387.2,1006.1 390.0,1020.0 392.9,1004.8 395.7,1017.6 398.5,1001.2 401.3,1016.2 404.1,999.8 407.0,1015.3 409.8,998.0 412.7,1014.6 415.6,996.4 418.6,1012.7 421.6,995.9 424.5,1010.5 427.5,994.7 430.5,1010.4 433.5,993.5 436.5,1011.6 439.5,992.3 442.5,1010.5 445.5,994.2 448.4,1011.4 451.4,994.6 454.4,1013.8 457.4,994.4 460.4,1012.7 463.4,993.8 466.4,1012.2 469.4,995.2 472.4,1012.7 475.4,992.6 478.4,1012.3 481.4,992.6 484.4,1011.9 487.4,993.5 490.4,1011.4 493.4,992.6 496.4,1011.8 499.4,991.2 502.4,1009.7 505.4,991.5 508.4,1011.9 511.4,991.7 514.4,1011.2 517.4,991.2 520.4,1011.7 523.3,989.9 526.3,1011.3 529.3,990.7 532.3,1012.0 535.3,991.5 538.3,1013.4 541.3,992.0 544.3,1013.3 547.3,994.1 550.3,1014.3 553.3,995.5 556.2,1014.9 559.2,995.1 562.2,1015.4 565.2,994.5 568.2,1014.2 571.2,996.1 574.2,1015.1 577.2,995.0 580.2,1013.8 583.2,996.7 586.2,1014.7 589.2,996.6 592.2,1015.8 595.2,997.4 598.2,1017.5 601.2,997.9 604.2,1015.6 607.2,997.9 610.2,1017.1 613.2,996.7 616.2,1015.8 619.2,997.5 622.2,1016.1 625.2,998.5 628.2,1016.5 631.2,998.2 634.2,1017.5 637.1,999.7 640.1,1015.9 643.1,999.4 646.1,1018.4 649.1,998.7 652.1,1017.8 655.1,1000.1 658.1,1019.4 661.1,999.2 664.1,1018.4 667.1,1001.1 670.1,1019.4 673.1,1001.5 676.1,1020.7 679.1,1000.5 682.1,1019.4 685.1,1001.4 688.0,1019.8 691.0,1003.2 694.0,1020.2 697.0,1003.8 700.0,1020.9 703.0,1002.9 706.0,1021.4 709.0,1003.9 712.0,1021.8 715.0,1003.8 718.0,1020.5 721.0,1004.5 724.0,1021.9 727.0,1005.3 730.0,1021.6 733.0,1006.8 736.0,1023.7 739.0,1006.3 741.9,1024.1 744.9,1006.1 747.9,1023.9 750.9,1005.7 753.9,1024.9 756.9,1007.1 759.9,1021.8 762.9,1008.0 765.9,1023.2 768.9,1006.4 771.9,1023.4 774.9,1009.0 777.9,1024.5 780.9,1010.7 783.9,1025.3 786.9,1008.9 789.8,1025.7 792.8,1010.6 795.8,1024.1 798.8,1009.8 801.8,1025.0 804.8,1010.0 807.8,1026.1 810.8,1010.6 813.8,1025.7 816.8,1012.7 819.8,1027.4 822.7,1013.6 825.7,1026.6 828.7,1013.5 831.7,1027.8 834.7,1015.4 837.7,1027.7 840.7,1016.6 843.7,1026.8 846.7,1014.8 849.7,1028.9 852.7,1015.2 855.6,1028.1 858.6,1017.4 861.6,1028.5 864.6,1016.4 867.6,1028.5 870.6,1017.9 873.6,1031.0 876.6,1018.3 879.6,1030.3 882.6,1018.4 885.6,1031.1 888.6,1019.8 891.6,1030.0 894.6,1019.4 897.6,1030.3 900.6,1020.8 903.6,1030.4 906.5,1020.3 909.5,1030.7 912.5,1021.3 915.5,1031.6 918.5,1021.1 921.5,1032.7 924.5,1020.7 927.5,1031.8 930.5,1020.7 933.4,1033.4 936.4,1023.2 939.4,1033.9 942.4,1023.5 945.4,1035.5 948.4,1023.2 951.3,1036.1 954.3,1024.2 957.3,1037.0 960.3,1024.8 963.3,1036.9 966.3,1025.5 969.3,1037.5 972.3,1026.0 975.2,1039.3 978.2,1026.8 981.2,1037.6 984.2,1026.8 987.2,1037.8 990.2,1026.4 993.2,1038.1 996.2,1026.0 999.2,1040.2 1002.2,1028.2 1005.2,1040.1 1008.2,1027.8 1011.2,1039.3 1014.2,1026.3 1017.2,1040.4 1020.2,1027.1 1023.2,1040.5 1026.2,1028.6 1029.2,1039.7 1032.2,1027.4 1035.2,1040.9 1038.2,1027.8 1041.2,1041.3 1044.2,1028.6 1047.2,1042.0 1050.2,1029.0 1053.2,1041.1 1056.2,1028.3 1059.2,1042.2 1062.2,1029.0 1065.1,1041.3 1068.1,1029.2 1071.1,1043.8 1074.1,1030.5 1077.1,1043.7 1080.1,1031.0 1083.1,1044.4 1086.0,1031.1 1089.0,1043.6 1092.0,1033.1 1095.0,1043.5 1098.0,1034.6 1101.0,1046.8 1104.0,1034.9 1107.0,1045.3 1109.9,1036.0 1112.9,1048.0 1115.9,1036.1 1118.9,1047.6 1121.9,1034.6 1124.9,1049.1 1127.9,1035.6 1130.9,1046.1 1133.9,1035.9 1136.9,1048.2 1139.9,1037.0 1142.9,1049.4 1145.9,1036.7 1148.9,1047.2 1151.9,1036.4 1154.9,1048.8 1157.9,1037.6 1160.9,1049.2 1163.9,1038.4 1166.9,1049.0 1169.9,1036.3 1172.9,1050.1 1175.9,1037.0 1178.9,1050.4 1181.9,1037.4 1184.9,1050.9 1187.8,1038.8 1190.8,1050.3 1193.8,1038.7 1196.8,1051.2 1199.8,1039.4 1202.8,1051.0 1205.8,1039.7 1208.7,1051.6 1211.7,1041.3 1214.7,1051.4 1217.7,1041.1 1220.7,1053.8 1223.6,1042.0 1226.6,1054.7 1229.6,1042.8 1232.6,1053.8 1235.6,1042.5 1238.6,1054.2 1241.6,1043.9 1244.6,1055.5 1247.6,1045.1 1250.6,1056.2 1253.6,1043.0 1256.6,1055.2 1259.6,1043.3 1262.5,1054.5 1265.5,1045.9 1268.5,1055.5 1271.5,1046.2 1274.5,1057.4 1277.5,1046.1 1280.5,1058.3 1283.5,1046.9 1286.5,1057.0 1289.5,1046.4 1292.5,1058.0 1295.5,1046.9 1298.5,1059.2 1301.5,1047.9 1304.5,1057.9 1307.5,1048.1 1310.5,1058.2 1313.5,1047.2 1316.5,1058.2 1319.4,1049.8 1322.4,1058.8 1325.4,1048.5 1328.4,1060.8 1331.4,1049.3 1334.4,1060.6 1337.4,1050.7 1340.4,1060.9 1343.4,1050.7 1346.4,1061.0 1349.4,1051.2 1352.4,1062.4 1355.4,1051.9 1358.3,1061.0 1361.3,1052.3 1364.3,1061.2 1367.3,1053.7 1370.3,1063.3 1373.3,1053.4 1376.3,1064.1 1379.3,1053.7 1382.3,1063.2 1385.3,1054.0 1388.3,1062.7 1391.3,1054.8 1394.2,1064.9 1397.2,1054.1 1400.2,1065.5 1403.2,1055.0 1406.2,1065.2 1409.2,1055.4 1412.2,1067.0 1415.2,1057.4 1418.2,1065.5 1421.2,1057.1 1424.2,1066.4 1427.2,1056.1 1430.1,1067.1 1433.1,1056.8 1436.1,1068.9 1439.1,1057.3 1442.1,1067.1 1445.1,1058.1 1448.1,1068.2 1451.1,1059.5 1454.1,1067.0 1457.1,1057.9 1460.1,1069.5 1463.1,1057.9 1466.1,1070.3 1469.1,1059.4 1472.1,1069.5 1475.1,1060.0 1478.1,1069.2 1481.1,1060.5 1484.1,1068.8 1487.1,1061.0 1490.1,1069.7 1493.1,1062.3 1496.1,1070.2 1499.1,1059.9 1502.1,1071.4 1505.1,1059.7 1508.1,1069.6 1511.0,1061.2 1514.0,1071.3 1517.0,1061.9 1520.0,1071.9 1523.0,1061.4 1526.0,1073.0 1529.0,1061.8 1532.0,1072.5 1535.0,1062.4 1538.0,1073.9 1541.0,1062.0 1544.0,1072.8 1547.0,1064.1 1550.0,1072.6 1553.0,1063.0 1556.0,1072.7 1559.0,1064.6 1562.0,1072.6 1565.0,1064.7 1568.0,1071.3 1571.0,1063.7 1574.0,1072.7 1577.0,1064.7 1580.0,1075.5 1583.0,1066.7 1586.0,1074.0 1589.0,1066.5 1591.9,1073.1 1594.9,1066.2 1597.9,1074.1 1600.9,1066.1 1603.9,1075.2 1606.9,1067.7 1609.9,1074.9 1612.9,1066.8 1615.9,1075.7 1618.9,1068.5 1621.9,1075.5 1624.9,1070.2 1627.9,1077.7 1630.9,1068.8 1633.9,1076.6 1636.9,1069.1 1639.9,1077.3 1642.9,1069.1 1645.8,1077.7 1648.8,1071.7 1651.8,1078.1 1654.8,1071.8 1657.8,1079.1 1660.8,1069.9 1663.8,1079.0 1666.8,1071.1 1669.8,1079.4 1672.8,1071.6 1675.8,1078.7 1678.8,1070.3 1681.8,1079.8 1684.8,1071.1 1687.8,1079.8 1690.8,1073.1 1693.8,1081.4 1696.8,1073.6 1699.8,1079.0 1702.8,1073.1 1705.8,1081.2 1708.8,1073.9 1711.8,1081.0 1714.8,1072.7 1717.7,1080.9 1720.7,1073.0 1723.8,1082.3 1726.8,1073.7 1729.8,1082.1 1732.8,1072.5 1735.8,1082.7 1738.8,1072.2 1741.8,1081.4 1744.8,1072.4 1747.8,1081.7 1750.8,1073.5 1753.8,1081.6 1756.8,1074.4 1759.8,1081.9 1762.8,1075.6 1765.7,1081.8 1768.7,1074.5 1771.7,1082.1 1774.7,1072.6 1777.7,1082.7 1780.7,1074.4 1783.7,1082.5 1786.7,1075.2 1789.7,1082.0 1792.7,1074.1 1795.7,1082.8 1798.7,1074.3 1801.7,1083.2 1804.7,1076.6 1807.7,1083.8 1810.7,1075.8 1813.7,1086.2 1816.7,1076.0 1819.7,1085.0 1822.6,1076.8 1825.6,1085.0 1828.6,1078.4 1831.6,1086.7 1834.6,1077.6 1837.6,1086.1 1840.6,1078.8 1843.6,1086.9 1846.6,1078.5 1849.6,1086.5 1852.6,1078.3 1855.6,1084.7 1858.6,1078.7 1861.6,1086.0 1864.6,1080.7 1867.6,1086.7 1870.6,1079.7 1873.6,1085.6 1876.6,1080.4 1879.6,1085.9 1882.6,1081.0 1885.6,1086.2 1888.6,1080.1 1891.6,1087.1 1894.6,1080.9 1897.6,1087.1 1900.6,1082.0 1903.6,1087.4 1906.6,1080.6 1909.6,1087.9 1912.6,1082.4 1915.6,1088.0 1918.6,1081.6 1921.6,1087.8 1924.6,1082.4 1927.6,1087.6 1930.6,1083.2 1933.6,1088.0 1936.5,1083.4 1939.5,1088.2 1942.5,1082.7 1945.5,1089.5 1948.5,1084.5 1951.5,1091.1 1954.5,1085.5 1957.4,1091.4 1960.4,1084.2 1963.4,1091.3 1966.4,1085.4 1969.4,1090.8 1972.4,1086.9 1975.4,1092.8 1978.4,1086.9 1981.4,1092.5 1984.4,1087.0 1987.4,1093.5 1990.4,1087.3 1993.3,1091.9 1996.3,1087.0 1999.3,1092.4 2002.3,1085.7 2005.3,1091.2 2008.3,1087.6 2011.3,1091.5 2014.3,1086.2 2017.3,1092.7 2020.3,1086.4 2023.3,1091.1 2026.3,1086.2 2029.3,1093.5 2032.4,1086.5 2035.4,1093.6 2038.4,1085.3 2039.5,1089.2" fill="none" stroke="#ff00ff" stroke-width="6.5" stroke-linejoin="round" stroke-linecap="round"/>
<path d="M311.5,1340.6 312.4,1332.4 313.2,1327.7 314.1,1319.2 315.0,1312.8 315.9,1305.3 316.8,1300.2 317.6,1291.4 318.5,1285.0 319.4,1277.1 320.3,1271.4 321.2,1262.2 322.1,1257.0 323.0,1248.4 323.9,1243.6 324.8,1233.7 325.6,1228.9 326.5,1219.3 327.4,1217.5 328.3,1206.7 329.3,1204.9 330.3,1193.6 331.4,1190.0 332.5,1175.3 334.0,1174.4 335.4,1169.7 337.7,1182.3 340.5,1173.3 342.4,1185.8 344.5,1169.6 346.7,1187.6 348.8,1168.7 350.8,1185.5 352.7,1168.3 354.6,1185.4 356.4,1170.5 358.3,1185.7 360.1,1172.9 361.9,1187.1 363.7,1177.4 365.6,1189.4 367.4,1180.3 369.3,1192.2 371.2,1182.7 373.1,1190.9 375.0,1181.7 377.0,1191.4 378.9,1182.0 380.9,1191.4 382.9,1181.4 385.0,1192.2 387.0,1180.8 389.0,1193.1 391.0,1180.1 393.0,1193.4 395.0,1177.5 397.0,1192.5 399.0,1177.7 401.0,1192.7 403.0,1175.8 405.0,1194.0 407.0,1176.6 409.0,1191.8 410.9,1177.9 412.9,1191.7 414.9,1172.9 416.9,1190.4 418.8,1174.7 420.8,1189.7 422.7,1173.8 424.7,1188.1 426.6,1172.6 428.6,1188.5 430.5,1171.7 432.4,1189.3 434.4,1170.6 436.3,1187.6 438.3,1170.5 440.2,1184.8 442.2,1170.1 444.2,1186.3 446.1,1168.3 448.1,1186.3 450.1,1171.4 452.1,1185.9 454.1,1172.6 456.1,1184.9 458.1,1170.2 460.2,1185.2 462.2,1171.2 464.2,1183.7 466.2,1172.5 468.2,1184.6 470.2,1173.5 472.2,1186.6 474.2,1170.0 476.2,1185.8 478.1,1169.7 480.1,1183.2 482.1,1171.1 484.1,1181.9 486.0,1169.1 488.0,1182.6 490.0,1168.1 491.9,1181.3 493.9,1168.7 495.9,1182.1 497.9,1168.3 499.8,1181.4 501.8,1168.7 503.8,1183.7 505.8,1170.8 507.8,1183.7 509.8,1170.4 511.8,1181.6 513.8,1171.1 515.8,1183.2 517.8,1172.7 519.8,1184.2 521.8,1171.8 523.8,1184.4 525.8,1171.8 527.8,1183.6 529.8,1174.3 531.8,1182.0 533.8,1171.9 535.8,1183.1 537.8,1170.6 539.8,1181.6 541.8,1170.5 543.8,1181.3 545.8,1171.1 547.8,1179.2 549.8,1167.0 551.8,1179.7 553.8,1168.4 555.8,1182.2 557.8,1168.6 559.8,1182.1 561.8,1168.8 563.8,1182.1 565.8,1169.5 567.8,1181.4 569.8,1169.4 571.8,1181.4 573.8,1169.4 575.8,1181.6 577.8,1168.2 579.8,1181.3 581.7,1168.0 583.7,1179.5 585.7,1168.4 587.7,1180.0 589.7,1165.7 591.7,1180.4 593.7,1167.8 595.7,1180.1 597.7,1165.7 599.7,1178.9 601.7,1166.1 603.7,1179.1 605.7,1165.0 607.7,1179.2 609.7,1162.6 611.7,1180.0 613.7,1166.3 615.7,1181.2 617.7,1168.5 619.7,1179.9 621.7,1167.2 623.7,1177.8 625.7,1167.5 627.7,1177.8 629.7,1165.9 631.7,1178.9 633.7,1165.1 635.7,1179.4 637.7,1167.5 639.7,1179.4 641.7,1166.6 643.7,1179.6 645.7,1166.3 647.7,1178.4 649.7,1165.6 651.7,1177.3 653.7,1164.3 655.7,1177.5 657.7,1164.3 659.7,1176.0 661.7,1164.7 663.7,1175.4 665.7,1164.6 667.7,1174.3 669.7,1159.2 671.7,1177.8 673.7,1163.9 675.7,1177.2 677.7,1164.2 679.7,1176.1 681.7,1163.4 683.7,1174.9 685.7,1165.4 687.7,1177.7 689.7,1165.1 691.7,1180.0 693.7,1165.1 695.7,1180.6 697.7,1166.7 699.7,1178.8 701.7,1166.4 703.7,1178.3 705.7,1163.8 707.7,1176.3 709.7,1164.5 711.7,1178.1 713.7,1163.6 715.7,1175.6 717.7,1164.1 719.7,1175.6 721.7,1162.9 723.7,1175.7 725.7,1162.9 727.7,1173.3 729.7,1162.0 731.7,1174.6 733.7,1164.5 735.7,1178.0 737.7,1164.0 739.7,1175.6 741.7,1165.6 743.7,1176.9 745.7,1164.3 747.7,1176.8 749.7,1164.7 751.7,1178.3 753.7,1163.1 755.7,1180.6 757.7,1166.5 759.7,1178.7 761.7,1166.5 763.7,1177.1 765.7,1163.2 767.7,1176.4 769.7,1164.3 771.7,1177.5 773.7,1163.5 775.7,1174.8 777.7,1163.7 779.7,1175.9 781.7,1163.0 783.7,1176.6 785.7,1162.4 787.7,1173.3 789.7,1162.8 791.7,1177.7 793.7,1165.8 795.7,1178.2 797.7,1166.0 799.7,1177.6 801.7,1164.4 803.7,1179.0 805.7,1166.6 807.7,1179.0 809.7,1165.1 811.7,1177.6 813.7,1164.3 815.7,1178.0 817.7,1164.3 819.7,1176.8 821.7,1163.6 823.7,1178.1 825.7,1165.1 827.7,1179.7 829.7,1165.1 831.7,1178.2 833.7,1165.4 835.7,1178.5 837.7,1165.4 839.7,1175.8 841.7,1163.7 843.7,1176.2 845.7,1162.4 847.7,1174.0 849.7,1162.9 851.7,1177.1 853.7,1167.1 855.7,1177.8 857.7,1166.9 859.7,1177.7 861.7,1166.4 863.7,1178.3 865.7,1166.3 867.7,1179.5 869.7,1168.4 871.7,1179.0 873.7,1165.5 875.7,1179.3 877.7,1165.8 879.7,1178.9 881.7,1166.8 883.7,1180.2 885.7,1165.5 887.7,1178.6 889.7,1167.7 891.7,1177.2 893.7,1166.3 895.7,1178.3 897.7,1167.0 899.7,1176.7 901.7,1166.9 903.7,1174.8 905.7,1163.2 907.7,1174.4 909.7,1166.9 911.7,1176.7 913.7,1167.0 915.7,1177.6 917.7,1165.4 919.7,1178.8 921.7,1166.8 923.7,1178.5 925.7,1167.0 927.7,1178.0 929.7,1168.3 931.7,1177.8 933.7,1169.4 935.7,1180.5 937.7,1169.5 939.7,1178.3 941.7,1169.9 943.7,1180.3 945.7,1168.7 947.7,1178.3 949.7,1168.5 951.7,1176.7 953.7,1166.8 955.7,1176.7 957.7,1167.7 959.7,1177.7 961.7,1166.9 963.7,1176.0 965.7,1163.5 967.7,1175.7 969.7,1167.0 971.7,1175.8 973.7,1165.8 975.7,1178.7 977.7,1166.5 979.7,1179.4 981.7,1166.7 983.7,1180.5 985.7,1168.1 987.7,1180.1 989.7,1169.9 991.7,1180.3 993.7,1170.6 995.7,1179.3 997.7,1170.2 999.7,1178.8 1001.7,1169.3 1003.7,1181.1 1005.7,1167.3 1007.7,1179.8 1009.7,1167.4 1011.7,1180.3 1013.7,1167.5 1015.7,1178.8 1017.7,1168.3 1019.7,1177.9 1021.7,1168.9 1023.7,1179.6 1025.7,1164.0 1027.7,1180.1 1029.7,1167.4 1031.7,1179.8 1033.7,1169.2 1035.7,1178.5 1037.7,1171.3 1039.7,1179.7 1041.7,1169.5 1043.7,1181.9 1045.7,1168.7 1047.7,1182.1 1049.7,1169.3 1051.7,1180.7 1053.7,1169.7 1055.7,1179.8 1057.7,1170.5 1059.7,1179.8 1061.7,1170.8 1063.7,1178.7 1065.7,1169.9 1067.7,1178.6 1069.7,1169.3 1071.7,1178.9 1073.7,1168.6 1075.7,1177.5 1077.7,1168.3 1079.7,1179.3 1081.7,1167.6 1083.7,1176.4 1085.7,1168.9 1087.7,1180.0 1089.7,1168.3 1091.7,1181.7 1093.7,1169.4 1095.7,1180.2 1097.7,1170.6 1099.7,1182.0 1101.7,1172.0 1103.6,1183.3 1105.6,1171.4 1107.6,1182.2 1109.6,1171.2 1111.6,1183.0 1113.6,1172.3 1115.6,1181.6 1117.6,1172.8 1119.6,1183.4 1121.6,1172.0 1123.6,1180.4 1125.6,1170.4 1127.6,1180.7 1129.6,1171.2 1131.6,1182.4 1133.6,1171.5 1135.6,1183.2 1137.6,1171.0 1139.6,1180.0 1141.6,1170.4 1143.6,1178.3 1145.6,1168.6 1147.6,1182.7 1149.6,1170.3 1151.6,1182.2 1153.6,1169.7 1155.6,1182.6 1157.6,1170.6 1159.6,1184.2 1161.6,1172.0 1163.6,1184.1 1165.6,1172.6 1167.6,1183.5 1169.6,1173.2 1171.6,1184.8 1173.6,1172.9 1175.6,1181.4 1177.6,1174.5 1179.6,1183.5 1181.6,1173.1 1183.6,1181.6 1185.6,1171.6 1187.6,1183.6 1189.6,1172.3 1191.6,1184.3 1193.6,1174.6 1195.6,1185.0 1197.6,1175.0 1199.6,1183.9 1201.6,1173.9 1203.6,1180.2 1205.6,1172.7 1207.6,1182.0 1209.6,1172.8 1211.6,1183.2 1213.6,1175.4 1215.6,1184.3 1217.6,1177.0 1219.6,1185.7 1221.6,1176.4 1223.6,1185.0 1225.6,1177.5 1227.6,1186.0 1229.6,1177.1 1231.6,1185.5 1233.6,1176.3 1235.6,1185.5 1237.6,1176.5 1239.6,1187.5 1241.6,1176.7 1243.6,1186.3 1245.6,1177.6 1247.6,1184.8 1249.6,1177.7 1251.6,1183.6 1253.6,1177.0 1255.6,1184.1 1257.6,1177.6 1259.6,1182.2 1261.6,1174.8 1263.6,1182.3 1265.6,1176.0 1267.6,1186.5 1269.6,1176.8 1271.6,1187.3 1273.6,1177.8 1275.6,1187.0 1277.6,1178.5 1279.6,1187.2 1281.6,1178.3 1283.6,1189.0 1285.5,1179.9 1287.5,1189.4 1289.5,1178.8 1291.5,1188.0 1293.5,1178.5 1295.5,1186.4 1297.5,1177.9 1299.5,1184.3 1301.5,1177.4 1303.5,1187.9 1305.5,1178.2 1307.5,1186.5 1309.5,1178.5 1311.5,1185.2 1313.5,1178.6 1315.5,1187.4 1317.5,1178.3 1319.5,1184.7 1321.5,1175.4 1323.5,1184.8 1325.5,1178.1 1327.5,1188.2 1329.5,1178.5 1331.5,1188.9 1333.5,1180.8 1335.5,1188.6 1337.5,1180.4 1339.5,1187.0 1341.5,1180.9 1343.5,1187.0 1345.5,1181.9 1347.5,1186.7 1349.5,1182.4 1351.5,1187.4 1353.5,1181.8 1355.5,1187.3 1357.5,1180.7 1359.5,1188.1 1361.5,1179.2 1363.5,1186.4 1365.5,1179.6 1367.5,1186.8 1369.5,1180.9 1371.5,1187.4 1373.5,1179.8 1375.5,1187.9 1377.5,1179.0 1379.5,1187.7 1381.5,1176.6 1383.5,1187.5 1385.5,1181.0 1387.5,1189.4 1389.5,1181.5 1391.5,1189.6 1393.5,1182.1 1395.5,1189.1 1397.5,1181.5 1399.5,1189.0 1401.5,1182.2 1403.5,1188.5 1405.5,1184.4 1407.5,1189.2 1409.5,1181.5 1411.5,1189.3 1413.5,1182.4 1415.5,1188.0 1417.5,1184.5 1419.5,1190.2 1421.5,1182.5 1423.5,1190.4 1425.5,1182.3 1427.5,1188.9 1429.5,1182.6 1431.5,1188.2 1433.5,1181.6 1435.5,1188.6 1437.5,1179.3 1439.5,1187.9 1441.5,1177.4 1443.5,1189.0 1445.5,1181.8 1447.5,1189.4 1449.5,1181.4 1451.5,1191.2 1453.5,1184.0 1455.5,1191.2 1457.5,1184.1 1459.5,1190.5 1461.5,1184.4 1463.5,1193.1 1465.5,1183.8 1467.5,1192.8 1469.5,1185.6 1471.5,1192.0 1473.5,1185.6 1475.5,1190.2 1477.5,1184.8 1479.5,1189.0 1481.5,1183.0 1483.5,1189.7 1485.5,1183.0 1487.5,1189.7 1489.4,1183.7 1491.4,1189.9 1493.4,1185.1 1495.4,1192.6 1497.4,1183.5 1499.4,1191.7 1501.4,1180.7 1503.4,1191.5 1505.4,1182.7 1507.4,1191.1 1509.4,1184.0 1511.4,1192.8 1513.4,1186.1 1515.4,1195.4 1517.4,1186.5 1519.4,1196.3 1521.4,1189.3 1523.4,1195.3 1525.4,1188.9 1527.4,1194.0 1529.4,1187.5 1531.4,1195.0 1533.4,1185.5 1535.4,1195.4 1537.4,1186.4 1539.4,1192.6 1541.4,1187.1 1543.4,1195.1 1545.4,1188.1 1547.4,1196.1 1549.4,1186.2 1551.4,1195.0 1553.4,1187.6 1555.4,1193.8 1557.4,1185.4 1559.4,1192.2 1561.4,1182.3 1563.4,1196.4 1565.4,1183.9 1567.4,1193.9 1569.4,1185.6 1571.4,1195.8 1573.4,1188.0 1575.4,1196.8 1577.4,1188.3 1579.4,1196.6 1581.4,1187.7 1583.4,1196.8 1585.4,1190.7 1587.4,1195.5 1589.4,1187.8 1591.4,1196.7 1593.4,1189.2 1595.4,1195.9 1597.4,1189.6 1599.4,1194.8 1601.4,1189.5 1603.4,1196.6 1605.4,1187.6 1607.4,1196.9 1609.4,1188.6 1611.4,1197.9 1613.4,1190.2 1615.4,1195.9 1617.4,1188.8 1619.4,1193.7 1621.4,1187.1 1623.4,1196.3 1625.4,1190.2 1627.4,1198.5 1629.4,1189.7 1631.4,1198.6 1633.4,1190.4 1635.4,1196.7 1637.4,1190.7 1639.4,1199.0 1641.4,1188.2 1643.4,1198.2 1645.4,1190.4 1647.4,1200.4 1649.4,1190.0 1651.4,1199.4 1653.4,1190.8 1655.3,1199.1 1657.3,1192.8 1659.3,1197.3 1661.3,1191.2 1663.3,1199.0 1665.3,1190.1 1667.3,1198.2 1669.3,1192.2 1671.3,1196.6 1673.3,1189.0 1675.3,1196.7 1677.3,1188.1 1679.3,1197.4 1681.3,1191.0 1683.3,1197.3 1685.3,1190.7 1687.3,1198.6 1689.3,1192.3 1691.3,1199.5 1693.3,1192.2 1695.3,1199.3 1697.3,1193.0 1699.3,1200.5 1701.3,1192.4 1703.3,1201.6 1705.3,1190.8 1707.3,1202.0 1709.3,1193.4 1711.3,1199.4 1713.3,1193.3 1715.3,1201.1 1717.3,1190.5 1719.3,1199.9 1721.3,1191.2 1723.3,1200.9 1725.3,1190.0 1727.3,1199.7 1729.3,1189.1 1731.3,1197.9 1733.3,1189.0 1735.3,1197.4 1737.3,1188.6 1739.3,1195.6 1741.3,1191.7 1743.3,1198.5 1745.3,1191.4 1747.3,1198.3 1749.3,1194.1 1751.3,1198.5 1753.3,1195.4 1755.3,1200.5 1757.3,1194.3 1759.3,1201.9 1761.3,1193.4 1763.3,1202.5 1765.3,1191.9 1767.3,1200.6 1769.3,1194.5 1771.3,1199.9 1773.3,1194.4 1775.3,1198.1 1777.3,1192.4 1779.3,1200.4 1781.3,1192.0 1783.3,1199.2 1785.3,1192.0 1787.3,1199.7 1789.3,1192.0 1791.3,1198.7 1793.3,1191.8 1795.3,1197.6 1797.3,1187.7 1799.3,1199.2 1801.3,1192.1 1803.3,1201.3 1805.3,1191.4 1807.3,1200.2 1809.3,1193.2 1811.3,1202.2 1813.3,1194.4 1815.3,1203.4 1817.3,1194.4 1819.3,1202.1 1821.3,1194.1 1823.3,1201.6 1825.3,1195.6 1827.3,1201.5 1829.3,1194.7 1831.3,1203.0 1833.3,1193.8 1835.3,1204.2 1837.3,1195.8 1839.3,1204.5 1841.3,1196.0 1843.3,1203.4 1845.3,1196.2 1847.3,1201.5 1849.3,1194.9 1851.3,1201.4 1853.3,1193.6 1855.3,1201.1 1857.3,1191.1 1859.3,1202.1 1861.3,1196.1 1863.3,1201.7 1865.3,1194.8 1867.3,1204.0 1869.3,1197.3 1871.3,1204.3 1873.3,1196.0 1875.3,1204.9 1877.3,1196.8 1879.3,1204.2 1881.3,1195.9 1883.3,1204.4 1885.3,1197.4 1887.3,1204.5 1889.3,1196.3 1891.3,1204.5 1893.3,1196.7 1895.3,1202.7 1897.3,1198.3 1899.3,1204.4 1901.3,1197.7 1903.3,1204.2 1905.3,1198.6 1907.3,1204.0 1909.3,1198.0 1911.3,1203.6 1913.3,1197.9 1915.2,1203.4 1917.2,1194.9 1919.2,1201.4 1921.2,1197.0 1923.2,1202.3 1925.2,1197.1 1927.2,1206.1 1929.2,1198.8 1931.2,1206.1 1933.2,1200.2 1935.2,1205.0 1937.2,1198.8 1939.2,1204.9 1941.2,1198.7 1943.2,1204.9 1945.2,1198.4 1947.2,1204.5 1949.2,1199.1 1951.2,1205.6 1953.2,1200.3 1955.2,1206.1 1957.2,1199.9 1959.2,1205.3 1961.2,1198.0 1963.2,1205.0 1965.2,1200.9 1967.2,1204.5 1969.2,1199.4 1971.2,1205.4 1973.2,1199.7 1975.2,1203.2 1977.2,1196.7 1979.2,1205.2 1981.2,1197.6 1983.2,1204.4 1985.2,1199.1 1987.2,1205.8 1989.2,1198.1 1991.2,1205.8 1993.2,1198.7 1995.2,1206.4 1997.2,1200.9 1999.2,1207.5 2001.2,1199.6 2003.2,1208.4 2005.2,1201.1 2007.2,1207.9 2009.2,1200.4 2011.2,1205.5 2013.2,1200.5 2015.2,1206.0 2017.2,1197.6 2019.2,1203.5 2021.2,1198.6 2023.2,1206.2 2025.2,1199.7 2027.2,1206.4 2029.2,1196.7 2031.2,1205.0 2033.2,1197.2 2035.2,1201.8 2037.2,1196.7 2039.2,1203.0 2039.5,1202.8" fill="none" stroke="#808000" stroke-width="6.5" stroke-linejoin="round" stroke-linecap="round"/>
<path d="M311.5,1341.9 311.9,1330.9 312.3,1327.9 312.8,1316.1 313.3,1313.4 314.0,1302.6 314.6,1299.7 315.3,1289.4 316.0,1284.8 316.8,1276.8 317.6,1271.1 318.4,1263.3 319.3,1256.9 320.2,1249.3 321.1,1244.0 322.0,1234.6 322.9,1228.6 324.0,1218.9 325.2,1215.6 326.5,1206.8 327.7,1202.6 328.9,1191.0 330.4,1193.0 331.6,1191.6 334.9,1205.5 337.9,1197.7 339.5,1210.6 341.2,1197.8 343.1,1210.5 345.0,1197.3 347.0,1212.0 349.1,1196.7 351.2,1211.1 353.3,1199.1 355.4,1209.7 357.5,1196.7 359.6,1209.6 361.6,1195.0 363.6,1210.6 365.6,1196.1 367.5,1211.1 369.5,1199.9 371.4,1213.9 373.4,1201.9 375.3,1213.0 377.2,1202.4 379.2,1215.5 381.1,1202.9 383.1,1215.9 385.1,1205.0 387.0,1215.5 389.0,1204.8 391.0,1216.6 393.0,1205.5 395.0,1216.5 396.9,1205.4 398.8,1217.8 400.7,1202.4 402.6,1216.7 404.5,1201.6 406.4,1213.7 408.3,1199.7 410.2,1212.9 412.1,1198.8 414.0,1213.1 415.9,1196.7 417.8,1211.5 419.7,1194.5 421.7,1212.4 423.7,1195.9 425.6,1209.6 427.6,1197.5 429.6,1211.1 431.6,1197.3 433.6,1212.5 435.6,1198.2 437.6,1212.5 439.6,1200.1 441.6,1212.7 443.6,1200.1 445.6,1211.1 447.6,1200.7 449.6,1213.2 451.6,1200.4 453.6,1210.7 455.6,1199.6 457.6,1210.7 459.6,1200.1 461.6,1212.5 463.6,1201.0 465.6,1211.1 467.6,1199.5 469.5,1209.4 471.5,1196.2 473.5,1204.5 475.5,1196.3 477.5,1206.7 479.5,1197.0 481.4,1208.0 483.4,1200.4 485.4,1211.2 487.3,1203.4 489.3,1215.1 491.3,1205.1 493.2,1217.3 495.2,1203.7 497.2,1218.2 499.1,1202.5 501.1,1219.4 503.1,1203.9 505.1,1214.5 507.0,1202.4 509.0,1216.8 511.0,1201.4 512.9,1213.9 514.9,1201.0 516.9,1211.3 518.8,1200.1 520.8,1212.1 522.8,1197.8 524.8,1211.2 526.7,1195.6 528.7,1208.4 530.7,1192.2 532.7,1206.1 534.7,1194.8 536.7,1206.2 538.6,1195.8 540.6,1208.6 542.6,1194.4 544.6,1208.6 546.6,1195.4 548.6,1210.6 550.6,1199.2 552.6,1212.6 554.6,1196.7 556.6,1213.6 558.6,1196.4 560.6,1214.3 562.6,1197.5 564.7,1213.7 566.7,1198.5 568.7,1210.4 570.7,1198.9 572.7,1211.3 574.7,1198.8 576.7,1210.3 578.7,1198.4 580.7,1210.1 582.7,1197.6 584.7,1211.7 586.7,1197.0 588.7,1209.6 590.7,1193.1 592.7,1205.1 594.7,1192.5 596.7,1207.8 598.7,1196.3 600.7,1210.6 602.7,1197.6 604.7,1212.2 606.7,1200.6 608.7,1213.0 610.7,1200.6 612.7,1213.2 614.7,1201.9 616.7,1214.4 618.7,1202.2 620.7,1213.7 622.7,1200.2 624.7,1213.5 626.7,1201.3 628.7,1214.2 630.7,1201.6 632.7,1213.1 634.7,1198.2 636.7,1213.2 638.7,1198.7 640.7,1211.3 642.7,1200.1 644.7,1212.8 646.7,1197.7 648.7,1211.5 650.7,1194.9 652.7,1208.4 654.7,1193.5 656.7,1210.3 658.7,1195.3 660.7,1212.3 662.7,1199.1 664.7,1211.6 666.7,1201.4 668.7,1214.0 670.7,1200.4 672.7,1216.0 674.7,1202.7 676.7,1214.9 678.7,1201.0 680.7,1213.0 682.7,1202.6 684.7,1212.0 686.7,1203.8 688.7,1215.3 690.7,1203.2 692.7,1213.4 694.7,1202.2 696.7,1211.1 698.7,1201.3 700.7,1210.8 702.7,1198.3 704.7,1210.3 706.7,1197.7 708.7,1210.8 710.7,1194.7 712.7,1209.0 714.7,1194.5 716.7,1210.5 718.7,1198.6 720.7,1211.2 722.7,1200.2 724.7,1211.6 726.7,1200.2 728.7,1213.2 730.7,1200.8 732.7,1212.2 734.7,1200.4 736.7,1212.4 738.7,1201.0 740.7,1214.1 742.7,1202.9 744.7,1212.1 746.7,1201.1 748.7,1213.3 750.7,1197.8 752.7,1211.1 754.7,1198.4 756.7,1210.9 758.7,1197.6 760.7,1209.8 762.7,1197.1 764.7,1211.7 766.7,1198.4 768.7,1209.1 770.7,1194.1 772.7,1208.4 774.7,1196.4 776.7,1210.4 778.7,1197.3 780.7,1211.6 782.7,1198.3 784.7,1212.2 786.7,1199.2 788.7,1213.1 790.7,1200.6 792.7,1212.9 794.6,1199.3 796.6,1212.9 798.6,1201.9 800.6,1213.4 802.6,1201.7 804.6,1211.1 806.6,1200.7 808.6,1209.5 810.6,1202.4 812.6,1209.6 814.6,1202.5 816.6,1209.4 818.6,1201.0 820.6,1208.8 822.6,1198.8 824.6,1211.5 826.6,1197.6 828.6,1209.4 830.6,1195.2 832.6,1207.5 834.6,1198.8 836.6,1209.0 838.6,1199.7 840.6,1210.1 842.6,1201.4 844.6,1210.8 846.6,1202.2 848.6,1214.7 850.6,1202.4 852.6,1216.7 854.6,1205.8 856.6,1214.6 858.6,1203.6 860.6,1213.7 862.6,1204.3 864.6,1213.4 866.6,1205.7 868.6,1214.8 870.6,1203.9 872.6,1212.0 874.6,1203.3 876.6,1213.8 878.6,1200.6 880.6,1212.7 882.6,1201.3 884.6,1209.9 886.6,1200.7 888.6,1208.4 890.6,1198.2 892.6,1209.3 894.6,1199.7 896.6,1210.5 898.6,1204.3 900.6,1212.2 902.6,1203.6 904.6,1214.6 906.6,1204.4 908.6,1214.8 910.6,1205.0 912.6,1213.8 914.6,1203.6 916.6,1213.9 918.6,1208.1 920.6,1216.9 922.6,1207.1 924.6,1216.1 926.6,1203.6 928.6,1214.2 930.6,1204.9 932.6,1213.3 934.6,1205.6 936.6,1213.2 938.6,1203.3 940.6,1212.0 942.6,1202.0 944.6,1212.1 946.6,1199.2 948.6,1208.4 950.6,1198.9 952.6,1210.1 954.6,1201.1 956.6,1211.2 958.6,1203.7 960.6,1212.2 962.6,1205.0 964.6,1216.6 966.6,1207.1 968.6,1216.7 970.6,1206.3 972.6,1217.2 974.6,1205.7 976.6,1216.7 978.6,1205.0 980.6,1215.3 982.6,1204.5 984.6,1215.3 986.6,1205.4 988.6,1214.5 990.6,1207.4 992.6,1215.7 994.6,1206.9 996.6,1215.3 998.6,1204.3 1000.6,1216.2 1002.6,1205.8 1004.6,1210.7 1006.6,1202.5 1008.6,1209.4 1010.6,1202.5 1012.6,1213.7 1014.6,1202.9 1016.6,1214.1 1018.6,1205.1 1020.6,1215.2 1022.6,1206.6 1024.6,1217.4 1026.6,1208.1 1028.6,1218.4 1030.6,1208.0 1032.6,1218.6 1034.6,1209.7 1036.6,1219.9 1038.6,1209.1 1040.6,1217.8 1042.6,1207.6 1044.6,1215.7 1046.6,1207.6 1048.6,1215.2 1050.6,1207.4 1052.6,1215.4 1054.6,1209.1 1056.6,1214.0 1058.6,1207.3 1060.6,1215.3 1062.6,1207.8 1064.6,1213.8 1066.6,1205.2 1068.6,1212.5 1070.6,1206.2 1072.6,1214.7 1074.6,1206.5 1076.6,1218.1 1078.6,1207.2 1080.6,1217.1 1082.6,1209.3 1084.6,1216.7 1086.6,1208.7 1088.5,1221.0 1090.5,1210.2 1092.5,1220.8 1094.5,1208.7 1096.5,1220.7 1098.5,1209.1 1100.5,1219.3 1102.5,1208.6 1104.5,1221.6 1106.5,1210.1 1108.5,1219.1 1110.5,1212.1 1112.5,1219.2 1114.5,1208.6 1116.5,1218.3 1118.5,1208.3 1120.5,1218.6 1122.5,1207.9 1124.5,1214.4 1126.5,1206.7 1128.5,1213.5 1130.5,1209.1 1132.5,1216.9 1134.5,1210.4 1136.5,1217.4 1138.5,1208.7 1140.5,1220.7 1142.5,1210.8 1144.5,1223.6 1146.5,1213.4 1148.5,1222.9 1150.5,1213.3 1152.5,1222.4 1154.5,1211.2 1156.5,1221.9 1158.5,1210.0 1160.5,1220.2 1162.5,1211.8 1164.5,1219.7 1166.5,1211.9 1168.5,1220.0 1170.5,1211.4 1172.5,1222.0 1174.5,1213.1 1176.5,1220.7 1178.5,1209.6 1180.5,1218.0 1182.5,1207.9 1184.5,1218.2 1186.5,1204.8 1188.5,1218.8 1190.5,1207.8 1192.5,1222.1 1194.5,1209.5 1196.5,1223.4 1198.5,1211.8 1200.5,1225.8 1202.4,1213.6 1204.4,1223.1 1206.4,1213.1 1208.4,1222.7 1210.4,1216.1 1212.4,1224.5 1214.4,1213.9 1216.4,1228.1 1218.4,1216.0 1220.4,1226.1 1222.4,1216.3 1224.4,1225.3 1226.4,1216.8 1228.4,1225.5 1230.4,1215.0 1232.4,1224.8 1234.4,1216.0 1236.4,1225.8 1238.4,1214.1 1240.4,1224.7 1242.4,1212.4 1244.4,1220.6 1246.3,1207.6 1248.3,1223.4 1250.3,1210.8 1252.3,1225.4 1254.3,1212.8 1256.3,1224.4 1258.3,1216.8 1260.3,1226.5 1262.3,1219.0 1264.3,1227.3 1266.3,1220.7 1268.3,1228.5 1270.3,1220.9 1272.3,1230.4 1274.3,1220.9 1276.3,1230.3 1278.3,1218.2 1280.3,1229.6 1282.3,1217.7 1284.3,1227.7 1286.3,1219.9 1288.3,1227.2 1290.3,1219.0 1292.2,1229.6 1294.2,1217.7 1296.2,1228.5 1298.2,1217.5 1300.2,1225.7 1302.2,1216.4 1304.2,1227.9 1306.2,1214.3 1308.2,1226.6 1310.2,1218.4 1312.2,1228.0 1314.2,1220.9 1316.2,1231.3 1318.2,1220.7 1320.2,1231.3 1322.2,1222.1 1324.2,1233.0 1326.2,1222.4 1328.2,1234.9 1330.2,1224.1 1332.2,1234.3 1334.2,1224.7 1336.2,1232.6 1338.2,1224.0 1340.2,1233.0 1342.2,1222.6 1344.2,1233.2 1346.2,1222.2 1348.2,1232.7 1350.2,1222.6 1352.2,1231.0 1354.2,1220.0 1356.2,1231.2 1358.2,1220.9 1360.2,1231.0 1362.2,1219.3 1364.2,1229.5 1366.2,1218.1 1368.2,1230.1 1370.2,1220.0 1372.2,1231.0 1374.2,1221.7 1376.2,1231.4 1378.2,1225.5 1380.2,1231.5 1382.2,1226.0 1384.2,1234.7 1386.2,1223.4 1388.2,1232.7 1390.2,1225.9 1392.2,1231.8 1394.2,1226.8 1396.2,1232.8 1398.2,1226.4 1400.2,1235.3 1402.2,1223.6 1404.2,1235.6 1406.2,1224.2 1408.1,1235.4 1410.1,1225.5 1412.1,1232.2 1414.1,1225.3 1416.1,1231.0 1418.1,1225.2 1420.1,1230.4 1422.1,1221.4 1424.1,1229.8 1426.1,1219.6 1428.1,1231.6 1430.1,1224.9 1432.1,1232.1 1434.1,1225.3 1436.1,1234.0 1438.1,1226.9 1440.1,1234.1 1442.1,1229.2 1444.1,1235.3 1446.1,1228.4 1448.1,1236.6 1450.1,1227.8 1452.1,1235.6 1454.1,1230.1 1456.1,1235.6 1458.1,1228.3 1460.1,1236.9 1462.1,1227.1 1464.1,1234.4 1466.1,1226.1 1468.1,1233.6 1470.1,1224.2 1472.1,1233.6 1474.1,1224.7 1476.1,1235.9 1478.1,1224.7 1480.1,1234.5 1482.1,1224.4 1484.1,1230.3 1486.1,1225.0 1488.1,1234.6 1490.1,1224.8 1492.1,1236.0 1494.1,1228.1 1496.1,1238.7 1498.1,1229.2 1500.1,1239.1 1502.1,1231.1 1504.1,1237.4 1506.1,1230.6 1508.1,1237.9 1510.1,1229.7 1512.1,1238.3 1514.1,1230.1 1516.1,1237.6 1518.1,1229.2 1520.1,1235.4 1522.1,1226.4 1524.1,1237.5 1526.1,1227.6 1528.1,1236.6 1530.1,1229.6 1532.1,1236.1 1534.1,1228.1 1536.1,1237.0 1538.1,1228.9 1540.1,1235.6 1542.1,1225.2 1544.1,1233.1 1546.1,1227.5 1548.1,1235.8 1550.1,1227.6 1552.1,1236.0 1554.1,1229.9 1556.1,1239.2 1558.1,1231.7 1560.1,1240.2 1562.0,1230.9 1564.0,1241.2 1566.0,1229.9 1568.0,1242.4 1570.0,1233.1 1572.0,1242.2 1574.0,1232.2 1576.0,1238.9 1578.0,1232.6 1580.0,1239.5 1582.0,1231.9 1584.0,1241.0 1586.0,1230.1 1588.0,1238.8 1590.0,1230.8 1592.0,1237.9 1594.0,1231.0 1596.0,1239.6 1598.0,1227.9 1600.0,1235.8 1602.0,1225.9 1604.0,1237.2 1606.0,1230.0 1608.0,1237.6 1610.0,1230.7 1612.0,1238.8 1614.0,1231.7 1616.0,1239.2 1618.0,1233.8 1620.0,1241.0 1622.0,1234.6 1624.0,1242.2 1626.0,1233.2 1628.0,1241.5 1630.0,1234.0 1632.0,1242.7 1634.0,1234.4 1636.0,1241.5 1638.0,1235.7 1640.0,1241.5 1642.0,1235.6 1644.0,1242.5 1646.0,1235.8 1648.0,1240.9 1650.0,1234.2 1652.0,1240.1 1654.0,1231.6 1656.0,1241.1 1658.0,1232.2 1660.0,1239.2 1662.0,1231.7 1664.0,1237.6 1666.0,1233.8 1668.0,1239.9 1670.0,1235.6 1672.0,1243.0 1674.0,1233.8 1676.0,1245.6 1678.0,1233.1 1680.0,1245.9 1682.0,1236.3 1684.0,1244.8 1686.0,1237.4 1688.0,1245.9 1690.0,1236.9 1692.0,1244.2 1694.0,1238.2 1696.0,1242.8 1698.0,1238.0 1700.0,1243.3 1702.0,1237.9 1704.0,1242.4 1706.0,1238.1 1708.0,1242.9 1710.0,1234.7 1712.0,1242.2 1714.0,1235.1 1716.0,1241.6 1717.9,1232.5 1719.9,1240.6 1721.9,1230.6 1723.9,1242.0 1725.9,1234.3 1727.9,1242.8 1729.9,1237.3 1731.9,1243.0 1733.9,1239.1 1735.9,1244.6 1737.9,1237.4 1739.9,1243.0 1741.9,1237.7 1743.9,1246.8 1745.9,1239.9 1747.9,1246.1 1749.9,1242.3 1751.9,1245.8 1753.9,1238.8 1755.9,1246.8 1757.9,1237.5 1759.9,1244.1 1761.9,1237.2 1763.9,1243.3 1765.9,1238.1 1767.9,1243.4 1769.9,1234.5 1771.9,1242.6 1773.9,1236.0 1775.9,1243.3 1777.9,1232.5 1779.9,1240.5 1781.9,1232.1 1783.9,1240.8 1785.9,1234.4 1787.9,1243.1 1789.9,1237.7 1791.9,1246.5 1793.9,1237.0 1795.9,1248.1 1797.9,1238.4 1799.9,1246.0 1801.9,1238.8 1803.9,1248.0 1805.9,1240.4 1807.9,1248.2 1809.9,1240.6 1811.9,1247.7 1813.9,1238.8 1815.9,1246.8 1817.9,1237.4 1819.9,1249.0 1821.9,1237.1 1823.9,1246.2 1825.9,1237.8 1827.9,1243.7 1829.9,1239.2 1831.9,1245.4 1833.9,1239.0 1835.9,1245.6 1837.9,1235.3 1839.9,1243.8 1841.9,1232.9 1843.9,1244.3 1845.9,1238.6 1847.9,1246.4 1849.9,1239.6 1851.9,1246.3 1853.9,1241.7 1855.9,1249.9 1857.9,1243.1 1859.9,1246.6 1861.9,1241.2 1863.9,1246.8 1865.9,1241.6 1867.9,1250.0 1869.9,1242.3 1871.9,1250.3 1873.9,1243.7 1875.9,1248.7 1877.9,1241.4 1879.9,1251.1 1881.9,1239.9 1883.9,1245.8 1885.9,1241.2 1887.9,1247.0 1889.9,1239.3 1891.9,1246.5 1893.9,1238.8 1895.9,1245.0 1897.9,1236.4 1899.9,1242.1 1901.9,1236.4 1903.9,1245.8 1905.9,1239.9 1907.9,1248.1 1909.9,1240.7 1911.9,1247.9 1913.9,1243.0 1915.9,1249.6 1917.9,1244.5 1919.9,1249.9 1921.9,1243.4 1923.9,1249.4 1925.9,1243.3 1927.9,1249.5 1929.9,1244.9 1931.9,1251.7 1933.9,1243.0 1935.9,1250.7 1937.9,1242.2 1939.9,1249.5 1941.9,1243.4 1943.9,1250.0 1945.9,1244.3 1947.9,1247.9 1949.9,1244.2 1951.9,1245.7 1953.9,1243.9 1955.9,1244.8 1957.9,1238.1 1959.8,1245.3 1961.8,1240.1 1963.8,1246.8 1965.8,1243.0 1967.8,1248.3 1969.8,1243.5 1971.8,1250.8 1973.8,1244.1 1975.8,1249.6 1977.8,1246.5 1979.8,1249.8 1981.8,1248.0 1983.8,1252.1 1985.8,1247.9 1987.8,1250.6 1989.8,1247.4 1991.8,1251.9 1993.8,1246.9 1995.8,1253.4 1997.8,1247.3 1999.8,1251.3 2001.8,1246.6 2003.8,1249.4 2005.8,1246.9 2007.8,1249.9 2009.8,1245.6 2011.8,1250.4 2013.8,1241.4 2015.8,1248.9 2017.8,1240.7 2019.8,1248.8 2021.8,1242.8 2023.8,1252.5 2025.8,1245.3 2027.8,1255.2 2029.8,1248.7 2031.8,1256.1 2033.8,1248.3 2035.8,1256.5 2037.8,1247.7 2039.5,1249.7" fill="none" stroke="#000080" stroke-width="6.5" stroke-linejoin="round" stroke-linecap="round"/>
<path d="M311.5,1340.1 311.9,1332.6 312.5,1326.0 313.1,1319.2 313.7,1312.1 314.5,1305.2 315.3,1297.8 316.2,1290.7 317.1,1284.3 318.0,1277.5 319.0,1270.8 320.0,1263.9 321.1,1257.0 322.1,1249.3 323.2,1242.3 325.8,1235.6 327.6,1235.3 329.3,1235.4 331.3,1235.7 333.3,1235.7 335.3,1236.0 337.4,1236.5 339.4,1236.5 341.4,1236.5 343.4,1236.7 345.4,1235.8 347.4,1236.3 349.4,1235.4 351.4,1235.0 353.4,1235.4 355.4,1235.2 357.4,1234.3 359.4,1235.1 361.4,1234.1 363.4,1233.8 365.4,1234.0 367.4,1233.9 369.3,1233.9 371.3,1234.7 373.3,1234.0 375.3,1235.2 377.3,1235.4 379.3,1235.1 381.2,1235.4 383.2,1235.9 385.2,1236.7 387.2,1236.5 389.2,1237.4 391.1,1237.6 393.1,1238.3 395.1,1238.4 397.1,1237.9 399.1,1238.2 401.0,1238.1 403.0,1238.6 405.1,1238.0 407.1,1237.9 409.1,1237.3 411.1,1236.8 412.9,1237.4 414.7,1237.4 416.3,1238.8 418.0,1240.8 419.7,1240.9 421.6,1241.3 423.5,1241.7 425.5,1241.5 427.5,1242.7 429.5,1242.8 431.5,1243.1 433.6,1243.0 435.6,1243.1 437.7,1243.1 439.7,1243.6 441.7,1243.2 443.7,1243.3 445.7,1242.8 447.7,1243.7 449.7,1242.9 451.7,1243.6 453.7,1243.3 455.7,1243.0 457.7,1244.0 459.7,1242.9 461.7,1243.1 463.7,1243.4 465.7,1243.7 467.7,1242.9 469.7,1243.9 471.7,1243.4 473.7,1243.4 475.7,1243.4 477.7,1243.1 479.7,1243.1 481.7,1243.7 483.7,1242.9 485.7,1242.7 487.6,1242.7 489.6,1242.0 491.6,1242.3 493.6,1241.7 495.6,1242.4 497.6,1241.3 499.6,1240.9 501.6,1241.2 503.6,1240.6 505.5,1241.1 507.5,1240.6 509.5,1239.6 511.5,1240.0 513.5,1239.6 515.5,1239.7 517.5,1239.1 519.5,1238.6 521.5,1238.5 523.4,1238.9 525.4,1238.2 527.4,1238.3 529.4,1237.4 531.4,1237.8 533.4,1236.9 535.4,1236.5 537.4,1237.0 539.3,1236.8 541.3,1236.3 543.3,1236.6 545.3,1236.3 547.3,1236.2 549.3,1236.5 551.3,1236.7 553.3,1236.2 555.3,1236.0 557.3,1235.7 559.3,1236.4 561.3,1236.3 563.3,1235.9 565.3,1236.0 567.3,1236.3 569.3,1236.6 571.3,1236.0 573.3,1235.6 575.3,1235.6 577.3,1235.8 579.3,1236.5 581.3,1235.8 583.3,1235.5 585.3,1236.5 587.3,1235.6 589.3,1236.2 591.3,1235.5 593.3,1236.0 595.3,1236.3 597.3,1236.3 599.3,1236.3 601.3,1236.8 603.3,1237.2 605.2,1236.8 607.2,1237.2 609.2,1238.1 611.2,1237.6 613.2,1238.7 615.2,1239.1 617.2,1239.5 619.2,1239.6 621.2,1239.3 623.1,1239.3 625.1,1240.0 627.1,1240.8 629.1,1240.9 631.1,1241.2 633.1,1240.7 635.1,1241.7 637.1,1241.5 639.0,1242.6 641.0,1242.7 643.0,1242.0 645.0,1242.3 647.0,1242.9 649.0,1243.4 651.0,1243.6 653.0,1243.6 655.0,1243.6 657.0,1242.9 658.9,1243.5 660.9,1243.0 662.9,1243.9 664.9,1242.9 666.9,1243.4 668.9,1243.6 670.9,1242.8 672.9,1243.5 674.9,1242.7 676.9,1242.7 678.9,1243.1 680.9,1242.5 682.9,1242.2 684.9,1243.1 686.9,1242.2 688.9,1242.3 690.9,1242.2 692.9,1242.8 694.9,1241.7 696.9,1242.1 698.9,1242.0 700.9,1241.5 702.9,1241.7 704.9,1241.3 706.9,1241.8 708.9,1240.9 710.9,1241.4 712.9,1241.3 714.9,1240.6 716.9,1240.0 718.9,1240.3 720.9,1240.5 722.8,1239.9 724.8,1239.5 726.8,1240.4 728.8,1239.4 730.8,1239.0 732.8,1239.7 734.8,1238.7 736.8,1238.7 738.8,1238.5 740.8,1239.2 742.8,1238.3 744.8,1238.1 746.8,1238.6 748.8,1238.8 750.8,1238.9 752.8,1237.9 754.8,1238.0 756.8,1237.8 758.8,1237.5 760.8,1238.2 762.8,1237.5 764.8,1238.2 766.8,1237.7 768.8,1237.7 770.8,1238.2 772.8,1238.2 774.8,1238.4 776.8,1237.3 778.8,1237.4 780.8,1237.6 782.8,1238.4 784.8,1238.1 786.8,1238.5 788.8,1237.8 790.8,1238.6 792.8,1238.3 794.8,1238.7 796.8,1238.6 798.8,1239.3 800.8,1238.5 802.8,1238.9 804.8,1238.7 806.8,1239.0 808.8,1239.4 810.8,1239.6 812.8,1239.8 814.8,1240.0 816.7,1239.7 818.7,1240.6 820.7,1240.7 822.7,1240.2 824.7,1240.2 826.7,1241.1 828.7,1240.8 830.7,1240.6 832.7,1241.2 834.7,1241.2 836.7,1241.2 838.7,1241.9 840.7,1241.9 842.7,1242.5 844.7,1243.2 846.6,1242.8 848.6,1243.1 850.6,1243.2 852.6,1243.9 854.6,1243.6 856.6,1243.7 858.6,1244.0 860.6,1243.9 862.6,1244.2 864.6,1245.0 866.6,1245.3 868.6,1245.4 870.5,1245.0 872.5,1245.3 874.5,1245.8 876.5,1245.9 878.5,1245.7 880.5,1245.0 882.5,1245.0 884.5,1245.3 886.5,1245.5 888.5,1245.2 890.5,1245.4 892.5,1245.2 894.5,1245.5 896.5,1245.5 898.5,1245.0 900.5,1244.8 902.5,1245.1 904.5,1245.2 906.5,1244.9 908.5,1245.1 910.5,1245.0 912.5,1245.0 914.5,1244.0 916.5,1244.9 918.5,1245.1 920.5,1244.4 922.5,1244.1 924.5,1244.5 926.5,1244.2 928.5,1244.5 930.5,1244.6 932.5,1244.0 934.5,1243.4 936.5,1243.9 938.5,1243.8 940.5,1243.5 942.5,1243.8 944.5,1243.1 946.5,1243.4 948.5,1243.2 950.5,1243.1 952.5,1243.1 954.5,1242.8 956.5,1242.4 958.5,1243.0 960.5,1242.4 962.5,1242.1 964.5,1241.8 966.5,1241.6 968.5,1241.4 970.5,1242.1 972.5,1241.9 974.5,1242.2 976.4,1241.7 978.4,1241.8 980.4,1241.1 982.4,1241.6 984.4,1242.0 986.4,1241.5 988.4,1242.3 990.4,1242.3 992.4,1241.6 994.4,1241.9 996.4,1241.6 998.4,1241.9 1000.4,1242.0 1002.4,1242.6 1004.4,1242.7 1006.4,1242.3 1008.4,1243.1 1010.4,1243.4 1012.4,1242.9 1014.4,1243.0 1016.4,1244.1 1018.4,1244.1 1020.4,1243.5 1022.4,1243.6 1024.4,1244.7 1026.4,1244.2 1028.4,1245.0 1030.4,1245.0 1032.4,1245.1 1034.3,1244.8 1036.3,1245.6 1038.3,1245.3 1040.3,1245.1 1042.3,1246.1 1044.3,1245.6 1046.3,1246.7 1048.3,1246.7 1050.3,1246.8 1052.3,1247.6 1054.3,1247.3 1056.3,1247.1 1058.2,1247.8 1060.2,1248.0 1062.2,1248.6 1064.2,1248.3 1066.2,1249.0 1068.2,1249.2 1070.2,1248.7 1072.2,1249.1 1074.2,1249.6 1076.2,1249.7 1078.2,1248.8 1080.2,1249.9 1082.2,1249.5 1084.1,1249.6 1086.1,1248.8 1088.1,1249.6 1090.1,1249.6 1092.1,1249.0 1094.1,1249.8 1096.1,1249.4 1098.1,1249.1 1100.1,1249.0 1102.1,1249.2 1104.1,1249.2 1106.1,1249.5 1108.1,1249.0 1110.1,1249.4 1112.1,1248.6 1114.1,1248.8 1116.1,1248.7 1118.1,1249.1 1120.1,1248.2 1122.1,1248.4 1124.1,1248.7 1126.1,1248.6 1128.1,1247.9 1130.1,1248.5 1132.1,1248.1 1134.1,1248.1 1136.1,1247.9 1138.1,1247.3 1140.1,1247.6 1142.1,1247.5 1144.1,1247.2 1146.1,1247.1 1148.1,1247.8 1150.1,1246.9 1152.1,1247.4 1154.1,1246.7 1156.1,1246.8 1158.1,1246.9 1160.1,1247.1 1162.1,1246.7 1164.1,1246.4 1166.1,1246.0 1168.1,1245.7 1170.1,1246.1 1172.1,1246.5 1174.1,1245.9 1176.1,1245.8 1178.1,1245.9 1180.1,1245.3 1182.1,1245.7 1184.1,1245.6 1186.0,1245.2 1188.0,1244.5 1190.0,1243.8 1192.0,1244.5 1194.0,1244.6 1196.0,1244.5 1198.0,1243.8 1200.0,1243.7 1202.0,1243.9 1204.0,1243.9 1206.0,1244.7 1208.0,1244.5 1210.0,1243.9 1212.0,1243.8 1213.9,1245.0 1215.9,1244.4 1217.9,1244.6 1219.9,1244.7 1221.9,1245.0 1223.9,1245.2 1225.9,1245.6 1227.9,1245.1 1229.9,1245.0 1231.9,1245.5 1233.9,1246.0 1235.9,1246.7 1237.9,1246.5 1239.9,1246.3 1241.9,1246.6 1243.9,1247.4 1245.8,1246.6 1247.8,1247.2 1249.8,1247.9 1251.8,1247.3 1253.8,1248.3 1255.8,1247.9 1257.8,1248.6 1259.8,1248.1 1261.8,1248.9 1263.8,1249.3 1265.8,1249.4 1267.8,1249.8 1269.8,1249.9 1271.8,1250.3 1273.8,1250.0 1275.8,1250.5 1277.8,1250.9 1279.8,1250.6 1281.7,1250.9 1283.7,1251.3 1285.7,1251.2 1287.7,1250.8 1289.7,1250.8 1291.7,1251.0 1293.7,1251.3 1295.7,1251.8 1297.7,1251.7 1299.7,1251.8 1301.7,1252.1 1303.7,1252.5 1305.7,1252.4 1307.7,1251.9 1309.7,1252.2 1311.7,1252.1 1313.7,1252.8 1315.7,1252.2 1317.7,1252.3 1319.7,1252.5 1321.7,1252.8 1323.7,1252.4 1325.7,1252.7 1327.7,1252.7 1329.7,1252.5 1331.7,1252.5 1333.7,1253.0 1335.7,1252.8 1337.7,1252.8 1339.7,1252.5 1341.7,1252.2 1343.7,1252.9 1345.7,1252.1 1347.7,1252.7 1349.7,1252.4 1351.7,1252.5 1353.7,1252.7 1355.7,1253.2 1357.7,1252.8 1359.7,1253.0 1361.7,1253.2 1363.7,1253.0 1365.7,1252.8 1367.7,1252.8 1369.7,1252.7 1371.7,1252.6 1373.7,1252.4 1375.7,1252.9 1377.7,1253.3 1379.7,1253.1 1381.7,1252.5 1383.7,1252.9 1385.7,1253.1 1387.7,1252.7 1389.7,1253.0 1391.7,1253.6 1393.7,1253.6 1395.7,1253.5 1397.7,1252.5 1399.7,1253.7 1401.7,1253.4 1403.7,1252.6 1405.7,1253.8 1407.7,1252.8 1409.7,1252.7 1411.7,1253.8 1413.7,1252.7 1415.7,1253.2 1417.7,1253.0 1419.7,1253.8 1421.7,1253.1 1423.7,1254.0 1425.7,1252.9 1427.7,1253.4 1429.7,1254.0 1431.7,1253.6 1433.7,1253.7 1435.7,1253.3 1437.7,1253.2 1439.7,1253.6 1441.7,1254.3 1443.7,1254.4 1445.7,1253.9 1447.6,1254.7 1449.6,1254.7 1451.6,1255.6 1453.6,1256.0 1455.6,1255.2 1457.6,1255.7 1459.6,1256.6 1461.6,1257.0 1463.5,1257.0 1465.5,1256.8 1467.5,1257.6 1469.5,1258.1 1471.5,1257.2 1473.5,1257.9 1475.5,1257.8 1477.5,1257.8 1479.5,1258.4 1481.5,1257.5 1483.5,1257.8 1485.5,1258.5 1487.5,1257.9 1489.4,1257.5 1491.4,1257.4 1493.4,1257.8 1495.4,1257.8 1497.4,1257.4 1499.4,1258.1 1501.4,1257.9 1503.4,1258.0 1505.4,1257.8 1507.4,1258.3 1509.4,1258.2 1511.4,1257.3 1513.4,1257.3 1515.4,1257.4 1517.4,1257.1 1519.4,1257.9 1521.4,1257.2 1523.4,1257.9 1525.4,1257.6 1527.4,1256.8 1529.4,1257.0 1531.4,1257.2 1533.4,1256.8 1535.4,1257.4 1537.4,1257.4 1539.4,1257.5 1541.4,1256.8 1543.4,1256.9 1545.4,1257.1 1547.4,1256.8 1549.4,1256.7 1551.4,1256.7 1553.4,1257.3 1555.4,1256.2 1557.4,1256.5 1559.5,1256.7 1561.5,1256.2 1563.5,1256.8 1565.5,1255.9 1567.5,1256.9 1569.5,1256.0 1571.5,1255.9 1573.5,1256.5 1575.5,1255.9 1577.5,1256.6 1579.5,1255.7 1581.5,1256.0 1583.5,1256.6 1585.5,1256.0 1587.5,1255.6 1589.5,1256.1 1591.5,1256.0 1593.5,1255.5 1595.5,1256.3 1597.5,1255.9 1599.5,1255.5 1601.5,1255.5 1603.5,1256.4 1605.5,1255.9 1607.5,1255.8 1609.5,1256.5 1611.5,1255.9 1613.5,1256.5 1615.4,1256.0 1617.4,1256.4 1619.4,1256.6 1621.4,1256.6 1623.4,1255.9 1625.4,1257.1 1627.4,1256.5 1629.4,1257.0 1631.4,1256.8 1633.4,1256.5 1635.4,1257.3 1637.4,1257.0 1639.4,1257.2 1641.4,1257.2 1643.4,1257.9 1645.4,1257.6 1647.4,1258.3 1649.4,1258.1 1651.4,1258.4 1653.4,1258.3 1655.4,1258.4 1657.4,1258.7 1659.4,1259.8 1661.4,1259.8 1663.4,1259.3 1665.3,1260.1 1667.3,1259.9 1669.3,1259.7 1671.3,1259.9 1673.3,1260.6 1675.3,1260.6 1677.3,1260.2 1679.3,1261.3 1681.3,1261.0 1683.3,1261.0 1685.3,1261.3 1687.3,1261.7 1689.3,1261.5 1691.3,1261.9 1693.3,1262.1 1695.3,1262.1 1697.3,1261.6 1699.3,1262.3 1701.3,1261.9 1703.3,1262.4 1705.3,1263.0 1707.3,1263.0 1709.3,1262.8 1711.3,1261.9 1713.3,1262.3 1715.3,1262.6 1717.3,1262.3 1719.3,1261.9 1721.3,1262.5 1723.3,1262.1 1725.3,1261.9 1727.3,1262.1 1729.3,1261.9 1731.3,1262.7 1733.3,1262.3 1735.2,1262.5 1737.2,1262.5 1739.2,1262.9 1741.2,1263.0 1743.2,1262.0 1745.2,1262.2 1747.3,1262.3 1749.3,1262.6 1751.3,1262.6 1753.3,1262.8 1755.3,1262.6 1757.3,1262.6 1759.3,1262.3 1761.3,1262.7 1763.3,1262.7 1765.3,1262.7 1767.3,1262.7 1769.3,1262.0 1771.3,1262.6 1773.3,1261.9 1775.3,1262.5 1777.3,1262.8 1779.3,1262.5 1781.3,1262.8 1783.3,1262.5 1785.3,1262.5 1787.3,1262.3 1789.3,1261.9 1791.3,1262.6 1793.3,1262.5 1795.3,1262.0 1797.3,1263.0 1799.3,1262.2 1801.3,1262.9 1803.3,1262.2 1805.3,1262.0 1807.3,1262.4 1809.3,1261.9 1811.3,1262.6 1813.3,1263.0 1815.3,1263.0 1817.3,1262.5 1819.3,1262.8 1821.3,1262.8 1823.3,1262.5 1825.3,1263.0 1827.3,1262.4 1829.3,1262.1 1831.3,1262.6 1833.3,1262.4 1835.3,1262.4 1837.3,1263.3 1839.2,1262.5 1841.2,1262.9 1843.2,1262.8 1845.2,1262.9 1847.2,1263.5 1849.2,1263.5 1851.2,1263.3 1853.2,1262.9 1855.2,1263.8 1857.2,1263.2 1859.2,1264.3 1861.2,1264.1 1863.2,1263.9 1865.2,1264.7 1867.2,1264.4 1869.2,1264.8 1871.2,1264.6 1873.2,1265.2 1875.2,1265.1 1877.2,1264.8 1879.2,1264.5 1881.2,1265.7 1883.2,1265.6 1885.2,1265.5 1887.2,1265.2 1889.2,1266.3 1891.2,1266.5 1893.2,1265.5 1895.2,1265.8 1897.2,1265.7 1899.2,1267.0 1901.2,1266.1 1903.2,1266.5 1905.2,1266.2 1907.2,1267.4 1909.2,1267.5 1911.2,1267.3 1913.2,1267.1 1915.2,1267.2 1917.2,1266.8 1919.2,1267.9 1921.2,1267.2 1923.2,1267.8 1925.2,1267.1 1927.2,1267.8 1929.2,1267.6 1931.2,1267.2 1933.1,1267.7 1935.1,1268.4 1937.1,1268.3 1939.1,1268.3 1941.1,1267.6 1943.1,1267.7 1945.1,1267.5 1947.1,1267.7 1949.1,1267.4 1951.1,1267.7 1953.1,1267.2 1955.1,1267.7 1957.1,1267.7 1959.1,1267.9 1961.1,1268.1 1963.1,1267.3 1965.1,1268.0 1967.1,1268.0 1969.1,1267.9 1971.1,1267.7 1973.1,1267.5 1975.1,1267.8 1977.1,1267.2 1979.1,1266.7 1981.1,1266.7 1983.1,1267.0 1985.1,1266.4 1987.1,1267.1 1989.1,1267.0 1991.1,1266.4 1993.1,1266.7 1995.1,1266.1 1997.1,1266.7 1999.1,1266.0 2001.1,1266.4 2003.1,1266.2 2005.1,1266.1 2007.1,1265.5 2009.1,1266.2 2011.1,1265.1 2013.1,1265.6 2015.1,1265.5 2017.1,1264.8 2019.1,1265.6 2021.1,1265.2 2023.1,1264.4 2025.1,1264.8 2027.1,1264.5 2029.1,1264.3 2031.1,1264.6 2033.1,1264.1 2035.1,1264.1 2037.1,1263.7 2039.1,1263.1 2039.5,1263.5" fill="none" stroke="#800000" stroke-width="7.2" stroke-linejoin="round" stroke-linecap="round"/>
<defs><filter id="bin" x="0" y="0" width="2110" height="1570" filterUnits="userSpaceOnUse" color-interpolation-filters="sRGB"><feComponentTransfer><feFuncA type="discrete" tableValues="0 0 1 1 1"/></feComponentTransfer></filter></defs>
<g font-family="'Liberation Sans',Arial,sans-serif" fill="#000" text-rendering="geometricPrecision" style="font-kerning:none" filter="url(#bin)">
<text transform="translate(271.5,1370.5) scale(0.930,1)" font-size="77.0" text-anchor="end">0</text>
<text transform="translate(271.5,1267.4) scale(0.930,1)" font-size="77.0" text-anchor="end">30</text>
<text transform="translate(271.5,1164.3) scale(0.930,1)" font-size="77.0" text-anchor="end">60</text>
<text transform="translate(271.5,1061.2) scale(0.930,1)" font-size="77.0" text-anchor="end">90</text>
<text transform="translate(271.5,958.1) scale(0.930,1)" font-size="77.0" text-anchor="end">120</text>
<text transform="translate(271.5,855.0) scale(0.930,1)" font-size="77.0" text-anchor="end">150</text>
<text transform="translate(271.5,751.9) scale(0.930,1)" font-size="77.0" text-anchor="end">180</text>
<text transform="translate(271.5,648.8) scale(0.930,1)" font-size="77.0" text-anchor="end">210</text>
<text transform="translate(271.5,545.7) scale(0.930,1)" font-size="77.0" text-anchor="end">240</text>
<text transform="translate(271.5,442.6) scale(0.930,1)" font-size="77.0" text-anchor="end">270</text>
<text transform="translate(271.5,339.5) scale(0.930,1)" font-size="77.0" text-anchor="end">300</text>
<text transform="translate(271.5,236.4) scale(0.930,1)" font-size="77.0" text-anchor="end">330</text>
<text transform="translate(271.5,133.3) scale(0.930,1)" font-size="77.0" text-anchor="end">360</text>
<text transform="translate(313.1,1433.3) scale(0.955,1)" font-size="77.0" text-anchor="middle">0.0</text>
<text transform="translate(600.8,1433.3) scale(0.955,1)" font-size="77.0" text-anchor="middle">0.1</text>
<text transform="translate(888.5,1433.3) scale(0.955,1)" font-size="77.0" text-anchor="middle">0.2</text>
<text transform="translate(1176.2,1433.3) scale(0.955,1)" font-size="77.0" text-anchor="middle">0.3</text>
<text transform="translate(1463.9,1433.3) scale(0.955,1)" font-size="77.0" text-anchor="middle">0.4</text>
<text transform="translate(1751.5,1433.3) scale(0.955,1)" font-size="77.0" text-anchor="middle">0.5</text>
<text transform="translate(2039.2,1433.3) scale(0.955,1)" font-size="77.0" text-anchor="middle">0.6</text>
<text transform="translate(1170.3,1542.2) scale(0.963,1)" font-size="104.0" text-anchor="middle">Ture strain</text>
<text transform="translate(116.3,658.4) rotate(-90) scale(0.9668,1)" font-size="104.5" text-anchor="middle">Ture stress/MPa</text>
<text transform="translate(0,247.0) scale(0.940,1)" font-size="70.8"><tspan x="1385.2" text-anchor="end">850</tspan><tspan> </tspan><tspan x="1389.8" dy="-2" text-anchor="start" font-size="63.0" font-family="'Liberation Serif','Noto Serif CJK SC',serif">℃</tspan></text>
<text transform="translate(0,406.0) scale(0.940,1)" font-size="70.8"><tspan x="1402.5" text-anchor="end">880</tspan><tspan> </tspan><tspan x="1406.6" dy="-2" text-anchor="start" font-size="63.0" font-family="'Liberation Serif','Noto Serif CJK SC',serif">℃</tspan></text>
<text transform="translate(0,500.7) scale(0.940,1)" font-size="70.8"><tspan x="1402.5" text-anchor="end">910</tspan><tspan> </tspan><tspan x="1406.6" dy="-2" text-anchor="start" font-size="63.0" font-family="'Liberation Serif','Noto Serif CJK SC',serif">℃</tspan></text>
<text transform="translate(0,896.6) scale(0.940,1)" font-size="70.8"><tspan x="1410.2" text-anchor="end">940</tspan><tspan> </tspan><tspan x="1414.1" dy="-2" text-anchor="start" font-size="63.0" font-family="'Liberation Serif','Noto Serif CJK SC',serif">℃</tspan></text>
<text transform="translate(0,1039.8) scale(0.940,1)" font-size="70.8"><tspan x="1428.1" text-anchor="end">970</tspan><tspan> </tspan><tspan x="1431.9" dy="-2" text-anchor="start" font-size="63.0" font-family="'Liberation Serif','Noto Serif CJK SC',serif">℃</tspan></text>
<text transform="translate(0,1166.7) scale(0.940,1)" font-size="70.8"><tspan x="1453.9" text-anchor="end">1000</tspan><tspan> </tspan><tspan x="1457.7" dy="-2" text-anchor="start" font-size="63.0" font-family="'Liberation Serif','Noto Serif CJK SC',serif">℃</tspan></text>
<text transform="translate(0,1244.3) scale(0.940,1)" font-size="70.8"><tspan x="1463.9" text-anchor="end">1030</tspan><tspan> </tspan><tspan x="1468.4" dy="-2" text-anchor="start" font-size="63.0" font-family="'Liberation Serif','Noto Serif CJK SC',serif">℃</tspan></text>
<text transform="translate(0,1313.6) scale(0.940,1)" font-size="70.8"><tspan x="1460.4" text-anchor="end">1060</tspan><tspan> </tspan><tspan x="1465.0" dy="-2" text-anchor="start" font-size="63.0" font-family="'Liberation Serif','Noto Serif CJK SC',serif">℃</tspan></text>
<text transform="translate(0,170) scale(0.93,1)" font-size="82.8"><tspan x="1898.3">1</tspan><tspan> </tspan><tspan x="1958.2" dy="-6.4" font-family="'Liberation Serif','Times New Roman',serif" font-size="62" textLength="43.7" lengthAdjust="spacingAndGlyphs">S</tspan><tspan x="1997.8" dy="-21.1" font-family="'Liberation Serif','Times New Roman',serif" font-size="55" textLength="33.4" lengthAdjust="spacingAndGlyphs">−</tspan><tspan x="2026.9" dy="-1.5" font-family="'Liberation Serif','Times New Roman',serif" font-size="55" textLength="29.6" lengthAdjust="spacingAndGlyphs">1</tspan></text>
</g>
</svg>
</body></html>
